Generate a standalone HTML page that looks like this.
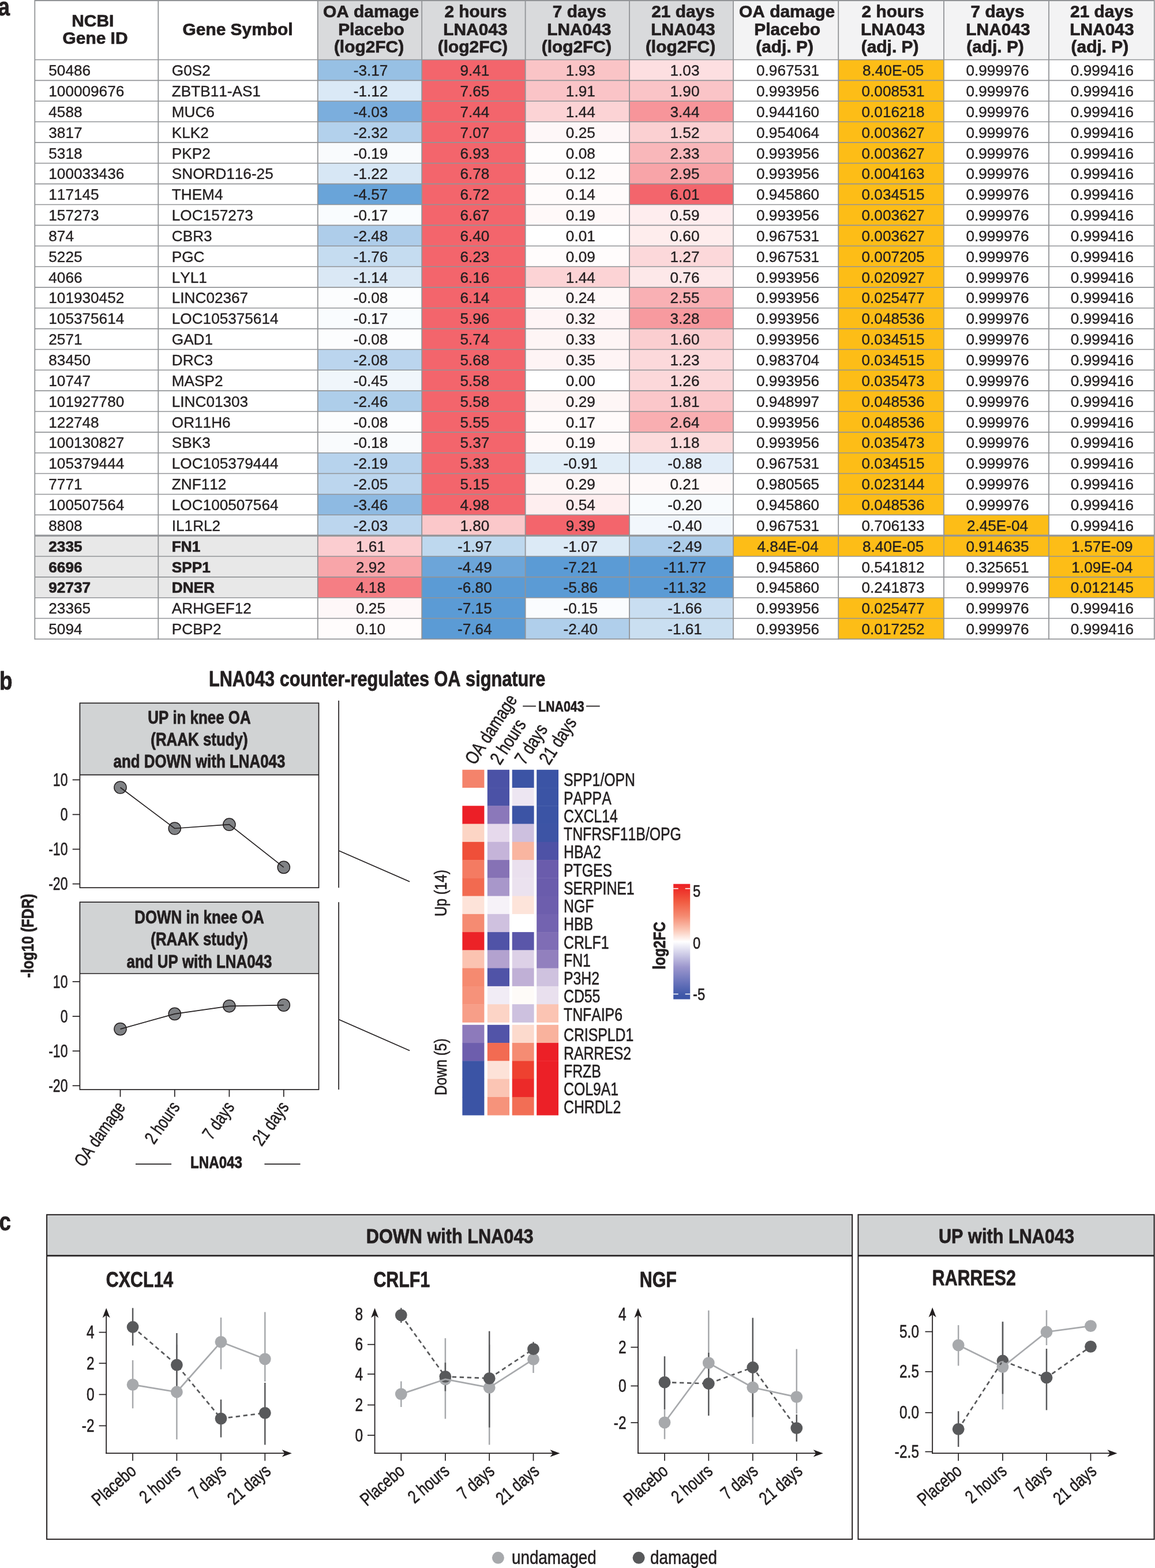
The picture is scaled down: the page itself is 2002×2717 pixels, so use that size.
<!DOCTYPE html>
<html lang="en">
<head>
<meta charset="utf-8">
<title>LNA043 counter-regulates OA signature</title>
<style>
html,body{margin:0;padding:0;background:#ffffff;}
body{width:2002px;height:2717px;overflow:hidden;}
svg{display:block;}
text{font-family:"Liberation Sans",sans-serif;fill:#231f20;font-kerning:none;stroke-linejoin:round;}
</style>
</head>
<body>
<svg width="2002" height="2717" viewBox="0 0 2002 2717" role="img" aria-label="Figure: LNA043 counter-regulates OA signature">
<rect x="0" y="0" width="2002" height="2717" fill="#ffffff"/>
<g id="panel-a">
<rect x="550.80" y="1.20" width="720.20" height="102.30" fill="#d9dadc"/>
<rect x="1271.00" y="1.20" width="729.80" height="102.30" fill="#f3f3f4"/>
<rect x="550.80" y="103.50" width="180.40" height="35.85" fill="#97c0e4"/>
<rect x="731.20" y="103.50" width="179.40" height="35.85" fill="#f3656c"/>
<rect x="910.60" y="103.50" width="180.40" height="35.85" fill="#fac4c6"/>
<rect x="1091.00" y="103.50" width="180.00" height="35.85" fill="#fddfe1"/>
<rect x="1453.20" y="103.50" width="182.80" height="35.85" fill="#fdbd17"/>
<rect x="550.80" y="139.35" width="180.40" height="35.85" fill="#dae9f6"/>
<rect x="731.20" y="139.35" width="179.40" height="35.85" fill="#f3656c"/>
<rect x="910.60" y="139.35" width="180.40" height="35.85" fill="#fac4c7"/>
<rect x="1091.00" y="139.35" width="180.00" height="35.85" fill="#fac4c7"/>
<rect x="1453.20" y="139.35" width="182.80" height="35.85" fill="#fdbd17"/>
<rect x="550.80" y="175.21" width="180.40" height="35.85" fill="#7baedd"/>
<rect x="731.20" y="175.21" width="179.40" height="35.85" fill="#f3656c"/>
<rect x="910.60" y="175.21" width="180.40" height="35.85" fill="#fcd3d5"/>
<rect x="1091.00" y="175.21" width="180.00" height="35.85" fill="#f7959a"/>
<rect x="1453.20" y="175.21" width="182.80" height="35.85" fill="#fdbd17"/>
<rect x="550.80" y="211.06" width="180.40" height="35.85" fill="#b3d1ec"/>
<rect x="731.20" y="211.06" width="179.40" height="35.85" fill="#f3656c"/>
<rect x="910.60" y="211.06" width="180.40" height="35.85" fill="#fef7f8"/>
<rect x="1091.00" y="211.06" width="180.00" height="35.85" fill="#fbd0d2"/>
<rect x="1453.20" y="211.06" width="182.80" height="35.85" fill="#fdbd17"/>
<rect x="550.80" y="246.91" width="180.40" height="35.85" fill="#f9fbfd"/>
<rect x="731.20" y="246.91" width="179.40" height="35.85" fill="#f3656c"/>
<rect x="910.60" y="246.91" width="180.40" height="35.85" fill="#fffdfd"/>
<rect x="1091.00" y="246.91" width="180.00" height="35.85" fill="#f9b7ba"/>
<rect x="1453.20" y="246.91" width="182.80" height="35.85" fill="#fdbd17"/>
<rect x="550.80" y="282.77" width="180.40" height="35.85" fill="#d7e7f5"/>
<rect x="731.20" y="282.77" width="179.40" height="35.85" fill="#f3656c"/>
<rect x="910.60" y="282.77" width="180.40" height="35.85" fill="#fffbfb"/>
<rect x="1091.00" y="282.77" width="180.00" height="35.85" fill="#f8a4a8"/>
<rect x="1453.20" y="282.77" width="182.80" height="35.85" fill="#fdbd17"/>
<rect x="550.80" y="318.62" width="180.40" height="35.85" fill="#69a4d9"/>
<rect x="731.20" y="318.62" width="179.40" height="35.85" fill="#f3656c"/>
<rect x="910.60" y="318.62" width="180.40" height="35.85" fill="#fffbfb"/>
<rect x="1091.00" y="318.62" width="180.00" height="35.85" fill="#f3656c"/>
<rect x="1453.20" y="318.62" width="182.80" height="35.85" fill="#fdbd17"/>
<rect x="550.80" y="354.48" width="180.40" height="35.85" fill="#f9fcfe"/>
<rect x="731.20" y="354.48" width="179.40" height="35.85" fill="#f3656c"/>
<rect x="910.60" y="354.48" width="180.40" height="35.85" fill="#fff9f9"/>
<rect x="1091.00" y="354.48" width="180.00" height="35.85" fill="#feedee"/>
<rect x="1453.20" y="354.48" width="182.80" height="35.85" fill="#fdbd17"/>
<rect x="550.80" y="390.33" width="180.40" height="35.85" fill="#aecdea"/>
<rect x="731.20" y="390.33" width="179.40" height="35.85" fill="#f3656c"/>
<rect x="910.60" y="390.33" width="180.40" height="35.85" fill="#ffffff"/>
<rect x="1091.00" y="390.33" width="180.00" height="35.85" fill="#feeded"/>
<rect x="1453.20" y="390.33" width="182.80" height="35.85" fill="#fdbd17"/>
<rect x="550.80" y="426.18" width="180.40" height="35.85" fill="#c5dcf0"/>
<rect x="731.20" y="426.18" width="179.40" height="35.85" fill="#f3656c"/>
<rect x="910.60" y="426.18" width="180.40" height="35.85" fill="#fffcfc"/>
<rect x="1091.00" y="426.18" width="180.00" height="35.85" fill="#fcd8da"/>
<rect x="1453.20" y="426.18" width="182.80" height="35.85" fill="#fdbd17"/>
<rect x="550.80" y="462.04" width="180.40" height="35.85" fill="#dae8f5"/>
<rect x="731.20" y="462.04" width="179.40" height="35.85" fill="#f3656c"/>
<rect x="910.60" y="462.04" width="180.40" height="35.85" fill="#fcd3d5"/>
<rect x="1091.00" y="462.04" width="180.00" height="35.85" fill="#fde8e9"/>
<rect x="1453.20" y="462.04" width="182.80" height="35.85" fill="#fdbd17"/>
<rect x="550.80" y="497.89" width="180.40" height="35.85" fill="#fcfdfe"/>
<rect x="731.20" y="497.89" width="179.40" height="35.85" fill="#f3656c"/>
<rect x="910.60" y="497.89" width="180.40" height="35.85" fill="#fef8f8"/>
<rect x="1091.00" y="497.89" width="180.00" height="35.85" fill="#f9b0b4"/>
<rect x="1453.20" y="497.89" width="182.80" height="35.85" fill="#fdbd17"/>
<rect x="550.80" y="533.74" width="180.40" height="35.85" fill="#f9fcfe"/>
<rect x="731.20" y="533.74" width="179.40" height="35.85" fill="#f3656c"/>
<rect x="910.60" y="533.74" width="180.40" height="35.85" fill="#fef5f6"/>
<rect x="1091.00" y="533.74" width="180.00" height="35.85" fill="#f79a9f"/>
<rect x="1453.20" y="533.74" width="182.80" height="35.85" fill="#fdbd17"/>
<rect x="550.80" y="569.60" width="180.40" height="35.85" fill="#fcfdfe"/>
<rect x="731.20" y="569.60" width="179.40" height="35.85" fill="#f3656c"/>
<rect x="910.60" y="569.60" width="180.40" height="35.85" fill="#fef5f5"/>
<rect x="1091.00" y="569.60" width="180.00" height="35.85" fill="#fbced0"/>
<rect x="1453.20" y="569.60" width="182.80" height="35.85" fill="#fdbd17"/>
<rect x="550.80" y="605.45" width="180.40" height="35.85" fill="#bbd5ee"/>
<rect x="731.20" y="605.45" width="179.40" height="35.85" fill="#f3656c"/>
<rect x="910.60" y="605.45" width="180.40" height="35.85" fill="#fef4f5"/>
<rect x="1091.00" y="605.45" width="180.00" height="35.85" fill="#fcd9db"/>
<rect x="1453.20" y="605.45" width="182.80" height="35.85" fill="#fdbd17"/>
<rect x="550.80" y="641.30" width="180.40" height="35.85" fill="#f0f6fb"/>
<rect x="731.20" y="641.30" width="179.40" height="35.85" fill="#f3656c"/>
<rect x="910.60" y="641.30" width="180.40" height="35.85" fill="#ffffff"/>
<rect x="1091.00" y="641.30" width="180.00" height="35.85" fill="#fcd8da"/>
<rect x="1453.20" y="641.30" width="182.80" height="35.85" fill="#fdbd17"/>
<rect x="550.80" y="677.16" width="180.40" height="35.85" fill="#aeceea"/>
<rect x="731.20" y="677.16" width="179.40" height="35.85" fill="#f3656c"/>
<rect x="910.60" y="677.16" width="180.40" height="35.85" fill="#fef6f6"/>
<rect x="1091.00" y="677.16" width="180.00" height="35.85" fill="#fbc7ca"/>
<rect x="1453.20" y="677.16" width="182.80" height="35.85" fill="#fdbd17"/>
<rect x="550.80" y="713.01" width="180.40" height="35.85" fill="#fcfdfe"/>
<rect x="731.20" y="713.01" width="179.40" height="35.85" fill="#f3656c"/>
<rect x="910.60" y="713.01" width="180.40" height="35.85" fill="#fffafa"/>
<rect x="1091.00" y="713.01" width="180.00" height="35.85" fill="#f9aeb1"/>
<rect x="1453.20" y="713.01" width="182.80" height="35.85" fill="#fdbd17"/>
<rect x="550.80" y="748.86" width="180.40" height="35.85" fill="#f9fbfd"/>
<rect x="731.20" y="748.86" width="179.40" height="35.85" fill="#f3656c"/>
<rect x="910.60" y="748.86" width="180.40" height="35.85" fill="#fff9f9"/>
<rect x="1091.00" y="748.86" width="180.00" height="35.85" fill="#fcdbdc"/>
<rect x="1453.20" y="748.86" width="182.80" height="35.85" fill="#fdbd17"/>
<rect x="550.80" y="784.72" width="180.40" height="35.85" fill="#b7d3ed"/>
<rect x="731.20" y="784.72" width="179.40" height="35.85" fill="#f3656c"/>
<rect x="910.60" y="784.72" width="180.40" height="35.85" fill="#e1edf7"/>
<rect x="1091.00" y="784.72" width="180.00" height="35.85" fill="#e2edf8"/>
<rect x="1453.20" y="784.72" width="182.80" height="35.85" fill="#fdbd17"/>
<rect x="550.80" y="820.57" width="180.40" height="35.85" fill="#bcd6ee"/>
<rect x="731.20" y="820.57" width="179.40" height="35.85" fill="#f3656c"/>
<rect x="910.60" y="820.57" width="180.40" height="35.85" fill="#fef6f6"/>
<rect x="1091.00" y="820.57" width="180.00" height="35.85" fill="#fef9f9"/>
<rect x="1453.20" y="820.57" width="182.80" height="35.85" fill="#fdbd17"/>
<rect x="550.80" y="856.43" width="180.40" height="35.85" fill="#8ebae2"/>
<rect x="731.20" y="856.43" width="179.40" height="35.85" fill="#f3666d"/>
<rect x="910.60" y="856.43" width="180.40" height="35.85" fill="#feeeef"/>
<rect x="1091.00" y="856.43" width="180.00" height="35.85" fill="#f8fbfd"/>
<rect x="1453.20" y="856.43" width="182.80" height="35.85" fill="#fdbd17"/>
<rect x="550.80" y="892.28" width="180.40" height="35.85" fill="#bcd6ee"/>
<rect x="731.20" y="892.28" width="179.40" height="35.85" fill="#fbc8ca"/>
<rect x="910.60" y="892.28" width="180.40" height="35.85" fill="#f3656c"/>
<rect x="1091.00" y="892.28" width="180.00" height="35.85" fill="#f2f7fc"/>
<rect x="1636.00" y="892.28" width="182.00" height="35.85" fill="#fdbd17"/>
<rect x="60.30" y="928.13" width="490.50" height="35.85" fill="#e8e8e8"/>
<rect x="550.80" y="928.13" width="180.40" height="35.85" fill="#fbcdd0"/>
<rect x="731.20" y="928.13" width="179.40" height="35.85" fill="#bed8ee"/>
<rect x="910.60" y="928.13" width="180.40" height="35.85" fill="#dceaf6"/>
<rect x="1091.00" y="928.13" width="180.00" height="35.85" fill="#adcdea"/>
<rect x="1271.00" y="928.13" width="182.20" height="35.85" fill="#fdbd17"/>
<rect x="1453.20" y="928.13" width="182.80" height="35.85" fill="#fdbd17"/>
<rect x="1636.00" y="928.13" width="182.00" height="35.85" fill="#fdbd17"/>
<rect x="1818.00" y="928.13" width="182.80" height="35.85" fill="#fdbd17"/>
<rect x="60.30" y="963.99" width="490.50" height="35.85" fill="#e8e8e8"/>
<rect x="550.80" y="963.99" width="180.40" height="35.85" fill="#f8a5a9"/>
<rect x="731.20" y="963.99" width="179.40" height="35.85" fill="#6ca5d9"/>
<rect x="910.60" y="963.99" width="180.40" height="35.85" fill="#5b9bd5"/>
<rect x="1091.00" y="963.99" width="180.00" height="35.85" fill="#5b9bd5"/>
<rect x="1818.00" y="963.99" width="182.80" height="35.85" fill="#fdbd17"/>
<rect x="60.30" y="999.84" width="490.50" height="35.85" fill="#e8e8e8"/>
<rect x="550.80" y="999.84" width="180.40" height="35.85" fill="#f57e84"/>
<rect x="731.20" y="999.84" width="179.40" height="35.85" fill="#5b9bd5"/>
<rect x="910.60" y="999.84" width="180.40" height="35.85" fill="#5b9bd5"/>
<rect x="1091.00" y="999.84" width="180.00" height="35.85" fill="#5b9bd5"/>
<rect x="1818.00" y="999.84" width="182.80" height="35.85" fill="#fdbd17"/>
<rect x="550.80" y="1035.69" width="180.40" height="35.85" fill="#fef7f8"/>
<rect x="731.20" y="1035.69" width="179.40" height="35.85" fill="#5b9bd5"/>
<rect x="910.60" y="1035.69" width="180.40" height="35.85" fill="#fafcfe"/>
<rect x="1091.00" y="1035.69" width="180.00" height="35.85" fill="#c9def1"/>
<rect x="1453.20" y="1035.69" width="182.80" height="35.85" fill="#fdbd17"/>
<rect x="550.80" y="1071.55" width="180.40" height="35.85" fill="#fffcfc"/>
<rect x="731.20" y="1071.55" width="179.40" height="35.85" fill="#5b9bd5"/>
<rect x="910.60" y="1071.55" width="180.40" height="35.85" fill="#b0cfeb"/>
<rect x="1091.00" y="1071.55" width="180.00" height="35.85" fill="#cadff1"/>
<rect x="1453.20" y="1071.55" width="182.80" height="35.85" fill="#fdbd17"/>
<line x1="60.30" y1="103.50" x2="2000.80" y2="103.50" stroke="#929497" stroke-width="1.6"/>
<line x1="60.30" y1="139.35" x2="2000.80" y2="139.35" stroke="#929497" stroke-width="1.6"/>
<line x1="60.30" y1="175.21" x2="2000.80" y2="175.21" stroke="#929497" stroke-width="1.6"/>
<line x1="60.30" y1="211.06" x2="2000.80" y2="211.06" stroke="#929497" stroke-width="1.6"/>
<line x1="60.30" y1="246.91" x2="2000.80" y2="246.91" stroke="#929497" stroke-width="1.6"/>
<line x1="60.30" y1="282.77" x2="2000.80" y2="282.77" stroke="#929497" stroke-width="1.6"/>
<line x1="60.30" y1="318.62" x2="2000.80" y2="318.62" stroke="#929497" stroke-width="1.6"/>
<line x1="60.30" y1="354.48" x2="2000.80" y2="354.48" stroke="#929497" stroke-width="1.6"/>
<line x1="60.30" y1="390.33" x2="2000.80" y2="390.33" stroke="#929497" stroke-width="1.6"/>
<line x1="60.30" y1="426.18" x2="2000.80" y2="426.18" stroke="#929497" stroke-width="1.6"/>
<line x1="60.30" y1="462.04" x2="2000.80" y2="462.04" stroke="#929497" stroke-width="1.6"/>
<line x1="60.30" y1="497.89" x2="2000.80" y2="497.89" stroke="#929497" stroke-width="1.6"/>
<line x1="60.30" y1="533.74" x2="2000.80" y2="533.74" stroke="#929497" stroke-width="1.6"/>
<line x1="60.30" y1="569.60" x2="2000.80" y2="569.60" stroke="#929497" stroke-width="1.6"/>
<line x1="60.30" y1="605.45" x2="2000.80" y2="605.45" stroke="#929497" stroke-width="1.6"/>
<line x1="60.30" y1="641.30" x2="2000.80" y2="641.30" stroke="#929497" stroke-width="1.6"/>
<line x1="60.30" y1="677.16" x2="2000.80" y2="677.16" stroke="#929497" stroke-width="1.6"/>
<line x1="60.30" y1="713.01" x2="2000.80" y2="713.01" stroke="#929497" stroke-width="1.6"/>
<line x1="60.30" y1="748.86" x2="2000.80" y2="748.86" stroke="#929497" stroke-width="1.6"/>
<line x1="60.30" y1="784.72" x2="2000.80" y2="784.72" stroke="#929497" stroke-width="1.6"/>
<line x1="60.30" y1="820.57" x2="2000.80" y2="820.57" stroke="#929497" stroke-width="1.6"/>
<line x1="60.30" y1="856.43" x2="2000.80" y2="856.43" stroke="#929497" stroke-width="1.6"/>
<line x1="60.30" y1="892.28" x2="2000.80" y2="892.28" stroke="#929497" stroke-width="1.6"/>
<line x1="60.30" y1="928.13" x2="2000.80" y2="928.13" stroke="#929497" stroke-width="3.2"/>
<line x1="60.30" y1="963.99" x2="2000.80" y2="963.99" stroke="#929497" stroke-width="1.6"/>
<line x1="60.30" y1="999.84" x2="2000.80" y2="999.84" stroke="#929497" stroke-width="1.6"/>
<line x1="60.30" y1="1035.69" x2="2000.80" y2="1035.69" stroke="#929497" stroke-width="1.6"/>
<line x1="60.30" y1="1071.55" x2="2000.80" y2="1071.55" stroke="#929497" stroke-width="1.6"/>
<line x1="60.30" y1="1107.40" x2="2000.80" y2="1107.40" stroke="#929497" stroke-width="1.6"/>
<line x1="60.30" y1="0.95" x2="2000.80" y2="0.95" stroke="#929497" stroke-width="1.9"/>
<line x1="60.30" y1="0.00" x2="60.30" y2="1108.20" stroke="#929497" stroke-width="1.8"/>
<line x1="274.30" y1="0.00" x2="274.30" y2="1108.20" stroke="#929497" stroke-width="1.8"/>
<line x1="550.80" y1="0.00" x2="550.80" y2="1108.20" stroke="#929497" stroke-width="1.8"/>
<line x1="731.20" y1="0.00" x2="731.20" y2="1108.20" stroke="#929497" stroke-width="1.8"/>
<line x1="910.60" y1="0.00" x2="910.60" y2="1108.20" stroke="#929497" stroke-width="1.8"/>
<line x1="1091.00" y1="0.00" x2="1091.00" y2="1108.20" stroke="#929497" stroke-width="1.8"/>
<line x1="1271.00" y1="0.00" x2="1271.00" y2="1108.20" stroke="#929497" stroke-width="1.8"/>
<line x1="1453.20" y1="0.00" x2="1453.20" y2="1108.20" stroke="#929497" stroke-width="1.8"/>
<line x1="1636.00" y1="0.00" x2="1636.00" y2="1108.20" stroke="#929497" stroke-width="1.8"/>
<line x1="1818.00" y1="0.00" x2="1818.00" y2="1108.20" stroke="#929497" stroke-width="1.8"/>
<line x1="2000.80" y1="0.00" x2="2000.80" y2="1108.20" stroke="#929497" stroke-width="1.8"/>
<text transform="translate(160.80 45.60) scale(1.0450 1)" font-size="28.6" font-weight="bold" text-anchor="middle" stroke="#231f20" stroke-width="0.7">NCBI</text>
<text transform="translate(165.00 76.00) scale(1.0450 1)" font-size="28.6" font-weight="bold" text-anchor="middle" stroke="#231f20" stroke-width="0.7">Gene ID</text>
<text transform="translate(412.05 61.20) scale(1.0450 1)" font-size="28.6" font-weight="bold" text-anchor="middle" stroke="#231f20" stroke-width="0.7">Gene Symbol</text>
<text transform="translate(643.00 30.30) scale(1.0450 1)" font-size="28.6" font-weight="bold" text-anchor="middle" stroke="#231f20" stroke-width="0.7">OA damage</text>
<text transform="translate(643.50 60.80) scale(1.0450 1)" font-size="28.6" font-weight="bold" text-anchor="middle" stroke="#231f20" stroke-width="0.7">Placebo</text>
<text transform="translate(639.50 91.20) scale(1.0450 1)" font-size="28.6" font-weight="bold" text-anchor="middle" stroke="#231f20" stroke-width="0.7">(log2FC)</text>
<text transform="translate(824.40 30.30) scale(1.0450 1)" font-size="28.6" font-weight="bold" text-anchor="middle" stroke="#231f20" stroke-width="0.7">2 hours</text>
<text transform="translate(823.90 60.80) scale(1.0450 1)" font-size="28.6" font-weight="bold" text-anchor="middle" stroke="#231f20" stroke-width="0.7">LNA043</text>
<text transform="translate(819.40 91.20) scale(1.0450 1)" font-size="28.6" font-weight="bold" text-anchor="middle" stroke="#231f20" stroke-width="0.7">(log2FC)</text>
<text transform="translate(1004.30 30.30) scale(1.0450 1)" font-size="28.6" font-weight="bold" text-anchor="middle" stroke="#231f20" stroke-width="0.7">7 days</text>
<text transform="translate(1003.80 60.80) scale(1.0450 1)" font-size="28.6" font-weight="bold" text-anchor="middle" stroke="#231f20" stroke-width="0.7">LNA043</text>
<text transform="translate(999.30 91.20) scale(1.0450 1)" font-size="28.6" font-weight="bold" text-anchor="middle" stroke="#231f20" stroke-width="0.7">(log2FC)</text>
<text transform="translate(1184.00 30.30) scale(1.0450 1)" font-size="28.6" font-weight="bold" text-anchor="middle" stroke="#231f20" stroke-width="0.7">21 days</text>
<text transform="translate(1184.00 60.80) scale(1.0450 1)" font-size="28.6" font-weight="bold" text-anchor="middle" stroke="#231f20" stroke-width="0.7">LNA043</text>
<text transform="translate(1179.50 91.20) scale(1.0450 1)" font-size="28.6" font-weight="bold" text-anchor="middle" stroke="#231f20" stroke-width="0.7">(log2FC)</text>
<text transform="translate(1364.10 30.30) scale(1.0450 1)" font-size="28.6" font-weight="bold" text-anchor="middle" stroke="#231f20" stroke-width="0.7">OA damage</text>
<text transform="translate(1364.60 60.80) scale(1.0450 1)" font-size="28.6" font-weight="bold" text-anchor="middle" stroke="#231f20" stroke-width="0.7">Placebo</text>
<text transform="translate(1360.10 91.20) scale(1.0450 1)" font-size="28.6" font-weight="bold" text-anchor="middle" stroke="#231f20" stroke-width="0.7">(adj. P)</text>
<text transform="translate(1547.60 30.30) scale(1.0450 1)" font-size="28.6" font-weight="bold" text-anchor="middle" stroke="#231f20" stroke-width="0.7">2 hours</text>
<text transform="translate(1547.60 60.80) scale(1.0450 1)" font-size="28.6" font-weight="bold" text-anchor="middle" stroke="#231f20" stroke-width="0.7">LNA043</text>
<text transform="translate(1542.60 91.20) scale(1.0450 1)" font-size="28.6" font-weight="bold" text-anchor="middle" stroke="#231f20" stroke-width="0.7">(adj. P)</text>
<text transform="translate(1729.00 30.30) scale(1.0450 1)" font-size="28.6" font-weight="bold" text-anchor="middle" stroke="#231f20" stroke-width="0.7">7 days</text>
<text transform="translate(1730.00 60.80) scale(1.0450 1)" font-size="28.6" font-weight="bold" text-anchor="middle" stroke="#231f20" stroke-width="0.7">LNA043</text>
<text transform="translate(1725.00 91.20) scale(1.0450 1)" font-size="28.6" font-weight="bold" text-anchor="middle" stroke="#231f20" stroke-width="0.7">(adj. P)</text>
<text transform="translate(1909.90 30.30) scale(1.0450 1)" font-size="28.6" font-weight="bold" text-anchor="middle" stroke="#231f20" stroke-width="0.7">21 days</text>
<text transform="translate(1909.90 60.80) scale(1.0450 1)" font-size="28.6" font-weight="bold" text-anchor="middle" stroke="#231f20" stroke-width="0.7">LNA043</text>
<text transform="translate(1906.40 91.20) scale(1.0450 1)" font-size="28.6" font-weight="bold" text-anchor="middle" stroke="#231f20" stroke-width="0.7">(adj. P)</text>
<text transform="translate(84.30 131.10) scale(1.0470 1)" font-size="25" stroke="#231f20" stroke-width="0.35">50486</text>
<text transform="translate(297.80 131.10) scale(1.0470 1)" font-size="25" stroke="#231f20" stroke-width="0.35">G0S2</text>
<text transform="translate(642.50 131.10) scale(1.0470 1)" font-size="25" text-anchor="middle" stroke="#231f20" stroke-width="0.35">-3.17</text>
<text transform="translate(822.90 131.10) scale(1.0470 1)" font-size="25" text-anchor="middle" stroke="#231f20" stroke-width="0.35">9.41</text>
<text transform="translate(1006.30 131.10) scale(1.0470 1)" font-size="25" text-anchor="middle" stroke="#231f20" stroke-width="0.35">1.93</text>
<text transform="translate(1187.00 131.10) scale(1.0470 1)" font-size="25" text-anchor="middle" stroke="#231f20" stroke-width="0.35">1.03</text>
<text transform="translate(1365.60 131.10) scale(1.0470 1)" font-size="25" text-anchor="middle" stroke="#231f20" stroke-width="0.35">0.967531</text>
<text transform="translate(1548.10 131.10) scale(1.0470 1)" font-size="25" text-anchor="middle" stroke="#231f20" stroke-width="0.35">8.40E-05</text>
<text transform="translate(1729.00 131.10) scale(1.0470 1)" font-size="25" text-anchor="middle" stroke="#231f20" stroke-width="0.35">0.999976</text>
<text transform="translate(1910.40 131.10) scale(1.0470 1)" font-size="25" text-anchor="middle" stroke="#231f20" stroke-width="0.35">0.999416</text>
<text transform="translate(84.30 166.95) scale(1.0470 1)" font-size="25" stroke="#231f20" stroke-width="0.35">100009676</text>
<text transform="translate(297.80 166.95) scale(1.0470 1)" font-size="25" stroke="#231f20" stroke-width="0.35">ZBTB11-AS1</text>
<text transform="translate(642.50 166.95) scale(1.0470 1)" font-size="25" text-anchor="middle" stroke="#231f20" stroke-width="0.35">-1.12</text>
<text transform="translate(822.90 166.95) scale(1.0470 1)" font-size="25" text-anchor="middle" stroke="#231f20" stroke-width="0.35">7.65</text>
<text transform="translate(1006.30 166.95) scale(1.0470 1)" font-size="25" text-anchor="middle" stroke="#231f20" stroke-width="0.35">1.91</text>
<text transform="translate(1187.00 166.95) scale(1.0470 1)" font-size="25" text-anchor="middle" stroke="#231f20" stroke-width="0.35">1.90</text>
<text transform="translate(1365.60 166.95) scale(1.0470 1)" font-size="25" text-anchor="middle" stroke="#231f20" stroke-width="0.35">0.993956</text>
<text transform="translate(1548.10 166.95) scale(1.0470 1)" font-size="25" text-anchor="middle" stroke="#231f20" stroke-width="0.35">0.008531</text>
<text transform="translate(1729.00 166.95) scale(1.0470 1)" font-size="25" text-anchor="middle" stroke="#231f20" stroke-width="0.35">0.999976</text>
<text transform="translate(1910.40 166.95) scale(1.0470 1)" font-size="25" text-anchor="middle" stroke="#231f20" stroke-width="0.35">0.999416</text>
<text transform="translate(84.30 202.81) scale(1.0470 1)" font-size="25" stroke="#231f20" stroke-width="0.35">4588</text>
<text transform="translate(297.80 202.81) scale(1.0470 1)" font-size="25" stroke="#231f20" stroke-width="0.35">MUC6</text>
<text transform="translate(642.50 202.81) scale(1.0470 1)" font-size="25" text-anchor="middle" stroke="#231f20" stroke-width="0.35">-4.03</text>
<text transform="translate(822.90 202.81) scale(1.0470 1)" font-size="25" text-anchor="middle" stroke="#231f20" stroke-width="0.35">7.44</text>
<text transform="translate(1006.30 202.81) scale(1.0470 1)" font-size="25" text-anchor="middle" stroke="#231f20" stroke-width="0.35">1.44</text>
<text transform="translate(1187.00 202.81) scale(1.0470 1)" font-size="25" text-anchor="middle" stroke="#231f20" stroke-width="0.35">3.44</text>
<text transform="translate(1365.60 202.81) scale(1.0470 1)" font-size="25" text-anchor="middle" stroke="#231f20" stroke-width="0.35">0.944160</text>
<text transform="translate(1548.10 202.81) scale(1.0470 1)" font-size="25" text-anchor="middle" stroke="#231f20" stroke-width="0.35">0.016218</text>
<text transform="translate(1729.00 202.81) scale(1.0470 1)" font-size="25" text-anchor="middle" stroke="#231f20" stroke-width="0.35">0.999976</text>
<text transform="translate(1910.40 202.81) scale(1.0470 1)" font-size="25" text-anchor="middle" stroke="#231f20" stroke-width="0.35">0.999416</text>
<text transform="translate(84.30 238.66) scale(1.0470 1)" font-size="25" stroke="#231f20" stroke-width="0.35">3817</text>
<text transform="translate(297.80 238.66) scale(1.0470 1)" font-size="25" stroke="#231f20" stroke-width="0.35">KLK2</text>
<text transform="translate(642.50 238.66) scale(1.0470 1)" font-size="25" text-anchor="middle" stroke="#231f20" stroke-width="0.35">-2.32</text>
<text transform="translate(822.90 238.66) scale(1.0470 1)" font-size="25" text-anchor="middle" stroke="#231f20" stroke-width="0.35">7.07</text>
<text transform="translate(1006.30 238.66) scale(1.0470 1)" font-size="25" text-anchor="middle" stroke="#231f20" stroke-width="0.35">0.25</text>
<text transform="translate(1187.00 238.66) scale(1.0470 1)" font-size="25" text-anchor="middle" stroke="#231f20" stroke-width="0.35">1.52</text>
<text transform="translate(1365.60 238.66) scale(1.0470 1)" font-size="25" text-anchor="middle" stroke="#231f20" stroke-width="0.35">0.954064</text>
<text transform="translate(1548.10 238.66) scale(1.0470 1)" font-size="25" text-anchor="middle" stroke="#231f20" stroke-width="0.35">0.003627</text>
<text transform="translate(1729.00 238.66) scale(1.0470 1)" font-size="25" text-anchor="middle" stroke="#231f20" stroke-width="0.35">0.999976</text>
<text transform="translate(1910.40 238.66) scale(1.0470 1)" font-size="25" text-anchor="middle" stroke="#231f20" stroke-width="0.35">0.999416</text>
<text transform="translate(84.30 274.51) scale(1.0470 1)" font-size="25" stroke="#231f20" stroke-width="0.35">5318</text>
<text transform="translate(297.80 274.51) scale(1.0470 1)" font-size="25" stroke="#231f20" stroke-width="0.35">PKP2</text>
<text transform="translate(642.50 274.51) scale(1.0470 1)" font-size="25" text-anchor="middle" stroke="#231f20" stroke-width="0.35">-0.19</text>
<text transform="translate(822.90 274.51) scale(1.0470 1)" font-size="25" text-anchor="middle" stroke="#231f20" stroke-width="0.35">6.93</text>
<text transform="translate(1006.30 274.51) scale(1.0470 1)" font-size="25" text-anchor="middle" stroke="#231f20" stroke-width="0.35">0.08</text>
<text transform="translate(1187.00 274.51) scale(1.0470 1)" font-size="25" text-anchor="middle" stroke="#231f20" stroke-width="0.35">2.33</text>
<text transform="translate(1365.60 274.51) scale(1.0470 1)" font-size="25" text-anchor="middle" stroke="#231f20" stroke-width="0.35">0.993956</text>
<text transform="translate(1548.10 274.51) scale(1.0470 1)" font-size="25" text-anchor="middle" stroke="#231f20" stroke-width="0.35">0.003627</text>
<text transform="translate(1729.00 274.51) scale(1.0470 1)" font-size="25" text-anchor="middle" stroke="#231f20" stroke-width="0.35">0.999976</text>
<text transform="translate(1910.40 274.51) scale(1.0470 1)" font-size="25" text-anchor="middle" stroke="#231f20" stroke-width="0.35">0.999416</text>
<text transform="translate(84.30 310.37) scale(1.0470 1)" font-size="25" stroke="#231f20" stroke-width="0.35">100033436</text>
<text transform="translate(297.80 310.37) scale(1.0470 1)" font-size="25" stroke="#231f20" stroke-width="0.35">SNORD116-25</text>
<text transform="translate(642.50 310.37) scale(1.0470 1)" font-size="25" text-anchor="middle" stroke="#231f20" stroke-width="0.35">-1.22</text>
<text transform="translate(822.90 310.37) scale(1.0470 1)" font-size="25" text-anchor="middle" stroke="#231f20" stroke-width="0.35">6.78</text>
<text transform="translate(1006.30 310.37) scale(1.0470 1)" font-size="25" text-anchor="middle" stroke="#231f20" stroke-width="0.35">0.12</text>
<text transform="translate(1187.00 310.37) scale(1.0470 1)" font-size="25" text-anchor="middle" stroke="#231f20" stroke-width="0.35">2.95</text>
<text transform="translate(1365.60 310.37) scale(1.0470 1)" font-size="25" text-anchor="middle" stroke="#231f20" stroke-width="0.35">0.993956</text>
<text transform="translate(1548.10 310.37) scale(1.0470 1)" font-size="25" text-anchor="middle" stroke="#231f20" stroke-width="0.35">0.004163</text>
<text transform="translate(1729.00 310.37) scale(1.0470 1)" font-size="25" text-anchor="middle" stroke="#231f20" stroke-width="0.35">0.999976</text>
<text transform="translate(1910.40 310.37) scale(1.0470 1)" font-size="25" text-anchor="middle" stroke="#231f20" stroke-width="0.35">0.999416</text>
<text transform="translate(84.30 346.22) scale(1.0470 1)" font-size="25" stroke="#231f20" stroke-width="0.35">117145</text>
<text transform="translate(297.80 346.22) scale(1.0470 1)" font-size="25" stroke="#231f20" stroke-width="0.35">THEM4</text>
<text transform="translate(642.50 346.22) scale(1.0470 1)" font-size="25" text-anchor="middle" stroke="#231f20" stroke-width="0.35">-4.57</text>
<text transform="translate(822.90 346.22) scale(1.0470 1)" font-size="25" text-anchor="middle" stroke="#231f20" stroke-width="0.35">6.72</text>
<text transform="translate(1006.30 346.22) scale(1.0470 1)" font-size="25" text-anchor="middle" stroke="#231f20" stroke-width="0.35">0.14</text>
<text transform="translate(1187.00 346.22) scale(1.0470 1)" font-size="25" text-anchor="middle" stroke="#231f20" stroke-width="0.35">6.01</text>
<text transform="translate(1365.60 346.22) scale(1.0470 1)" font-size="25" text-anchor="middle" stroke="#231f20" stroke-width="0.35">0.945860</text>
<text transform="translate(1548.10 346.22) scale(1.0470 1)" font-size="25" text-anchor="middle" stroke="#231f20" stroke-width="0.35">0.034515</text>
<text transform="translate(1729.00 346.22) scale(1.0470 1)" font-size="25" text-anchor="middle" stroke="#231f20" stroke-width="0.35">0.999976</text>
<text transform="translate(1910.40 346.22) scale(1.0470 1)" font-size="25" text-anchor="middle" stroke="#231f20" stroke-width="0.35">0.999416</text>
<text transform="translate(84.30 382.08) scale(1.0470 1)" font-size="25" stroke="#231f20" stroke-width="0.35">157273</text>
<text transform="translate(297.80 382.08) scale(1.0470 1)" font-size="25" stroke="#231f20" stroke-width="0.35">LOC157273</text>
<text transform="translate(642.50 382.08) scale(1.0470 1)" font-size="25" text-anchor="middle" stroke="#231f20" stroke-width="0.35">-0.17</text>
<text transform="translate(822.90 382.08) scale(1.0470 1)" font-size="25" text-anchor="middle" stroke="#231f20" stroke-width="0.35">6.67</text>
<text transform="translate(1006.30 382.08) scale(1.0470 1)" font-size="25" text-anchor="middle" stroke="#231f20" stroke-width="0.35">0.19</text>
<text transform="translate(1187.00 382.08) scale(1.0470 1)" font-size="25" text-anchor="middle" stroke="#231f20" stroke-width="0.35">0.59</text>
<text transform="translate(1365.60 382.08) scale(1.0470 1)" font-size="25" text-anchor="middle" stroke="#231f20" stroke-width="0.35">0.993956</text>
<text transform="translate(1548.10 382.08) scale(1.0470 1)" font-size="25" text-anchor="middle" stroke="#231f20" stroke-width="0.35">0.003627</text>
<text transform="translate(1729.00 382.08) scale(1.0470 1)" font-size="25" text-anchor="middle" stroke="#231f20" stroke-width="0.35">0.999976</text>
<text transform="translate(1910.40 382.08) scale(1.0470 1)" font-size="25" text-anchor="middle" stroke="#231f20" stroke-width="0.35">0.999416</text>
<text transform="translate(84.30 417.93) scale(1.0470 1)" font-size="25" stroke="#231f20" stroke-width="0.35">874</text>
<text transform="translate(297.80 417.93) scale(1.0470 1)" font-size="25" stroke="#231f20" stroke-width="0.35">CBR3</text>
<text transform="translate(642.50 417.93) scale(1.0470 1)" font-size="25" text-anchor="middle" stroke="#231f20" stroke-width="0.35">-2.48</text>
<text transform="translate(822.90 417.93) scale(1.0470 1)" font-size="25" text-anchor="middle" stroke="#231f20" stroke-width="0.35">6.40</text>
<text transform="translate(1006.30 417.93) scale(1.0470 1)" font-size="25" text-anchor="middle" stroke="#231f20" stroke-width="0.35">0.01</text>
<text transform="translate(1187.00 417.93) scale(1.0470 1)" font-size="25" text-anchor="middle" stroke="#231f20" stroke-width="0.35">0.60</text>
<text transform="translate(1365.60 417.93) scale(1.0470 1)" font-size="25" text-anchor="middle" stroke="#231f20" stroke-width="0.35">0.967531</text>
<text transform="translate(1548.10 417.93) scale(1.0470 1)" font-size="25" text-anchor="middle" stroke="#231f20" stroke-width="0.35">0.003627</text>
<text transform="translate(1729.00 417.93) scale(1.0470 1)" font-size="25" text-anchor="middle" stroke="#231f20" stroke-width="0.35">0.999976</text>
<text transform="translate(1910.40 417.93) scale(1.0470 1)" font-size="25" text-anchor="middle" stroke="#231f20" stroke-width="0.35">0.999416</text>
<text transform="translate(84.30 453.78) scale(1.0470 1)" font-size="25" stroke="#231f20" stroke-width="0.35">5225</text>
<text transform="translate(297.80 453.78) scale(1.0470 1)" font-size="25" stroke="#231f20" stroke-width="0.35">PGC</text>
<text transform="translate(642.50 453.78) scale(1.0470 1)" font-size="25" text-anchor="middle" stroke="#231f20" stroke-width="0.35">-1.76</text>
<text transform="translate(822.90 453.78) scale(1.0470 1)" font-size="25" text-anchor="middle" stroke="#231f20" stroke-width="0.35">6.23</text>
<text transform="translate(1006.30 453.78) scale(1.0470 1)" font-size="25" text-anchor="middle" stroke="#231f20" stroke-width="0.35">0.09</text>
<text transform="translate(1187.00 453.78) scale(1.0470 1)" font-size="25" text-anchor="middle" stroke="#231f20" stroke-width="0.35">1.27</text>
<text transform="translate(1365.60 453.78) scale(1.0470 1)" font-size="25" text-anchor="middle" stroke="#231f20" stroke-width="0.35">0.967531</text>
<text transform="translate(1548.10 453.78) scale(1.0470 1)" font-size="25" text-anchor="middle" stroke="#231f20" stroke-width="0.35">0.007205</text>
<text transform="translate(1729.00 453.78) scale(1.0470 1)" font-size="25" text-anchor="middle" stroke="#231f20" stroke-width="0.35">0.999976</text>
<text transform="translate(1910.40 453.78) scale(1.0470 1)" font-size="25" text-anchor="middle" stroke="#231f20" stroke-width="0.35">0.999416</text>
<text transform="translate(84.30 489.64) scale(1.0470 1)" font-size="25" stroke="#231f20" stroke-width="0.35">4066</text>
<text transform="translate(297.80 489.64) scale(1.0470 1)" font-size="25" stroke="#231f20" stroke-width="0.35">LYL1</text>
<text transform="translate(642.50 489.64) scale(1.0470 1)" font-size="25" text-anchor="middle" stroke="#231f20" stroke-width="0.35">-1.14</text>
<text transform="translate(822.90 489.64) scale(1.0470 1)" font-size="25" text-anchor="middle" stroke="#231f20" stroke-width="0.35">6.16</text>
<text transform="translate(1006.30 489.64) scale(1.0470 1)" font-size="25" text-anchor="middle" stroke="#231f20" stroke-width="0.35">1.44</text>
<text transform="translate(1187.00 489.64) scale(1.0470 1)" font-size="25" text-anchor="middle" stroke="#231f20" stroke-width="0.35">0.76</text>
<text transform="translate(1365.60 489.64) scale(1.0470 1)" font-size="25" text-anchor="middle" stroke="#231f20" stroke-width="0.35">0.993956</text>
<text transform="translate(1548.10 489.64) scale(1.0470 1)" font-size="25" text-anchor="middle" stroke="#231f20" stroke-width="0.35">0.020927</text>
<text transform="translate(1729.00 489.64) scale(1.0470 1)" font-size="25" text-anchor="middle" stroke="#231f20" stroke-width="0.35">0.999976</text>
<text transform="translate(1910.40 489.64) scale(1.0470 1)" font-size="25" text-anchor="middle" stroke="#231f20" stroke-width="0.35">0.999416</text>
<text transform="translate(84.30 525.49) scale(1.0470 1)" font-size="25" stroke="#231f20" stroke-width="0.35">101930452</text>
<text transform="translate(297.80 525.49) scale(1.0470 1)" font-size="25" stroke="#231f20" stroke-width="0.35">LINC02367</text>
<text transform="translate(642.50 525.49) scale(1.0470 1)" font-size="25" text-anchor="middle" stroke="#231f20" stroke-width="0.35">-0.08</text>
<text transform="translate(822.90 525.49) scale(1.0470 1)" font-size="25" text-anchor="middle" stroke="#231f20" stroke-width="0.35">6.14</text>
<text transform="translate(1006.30 525.49) scale(1.0470 1)" font-size="25" text-anchor="middle" stroke="#231f20" stroke-width="0.35">0.24</text>
<text transform="translate(1187.00 525.49) scale(1.0470 1)" font-size="25" text-anchor="middle" stroke="#231f20" stroke-width="0.35">2.55</text>
<text transform="translate(1365.60 525.49) scale(1.0470 1)" font-size="25" text-anchor="middle" stroke="#231f20" stroke-width="0.35">0.993956</text>
<text transform="translate(1548.10 525.49) scale(1.0470 1)" font-size="25" text-anchor="middle" stroke="#231f20" stroke-width="0.35">0.025477</text>
<text transform="translate(1729.00 525.49) scale(1.0470 1)" font-size="25" text-anchor="middle" stroke="#231f20" stroke-width="0.35">0.999976</text>
<text transform="translate(1910.40 525.49) scale(1.0470 1)" font-size="25" text-anchor="middle" stroke="#231f20" stroke-width="0.35">0.999416</text>
<text transform="translate(84.30 561.34) scale(1.0470 1)" font-size="25" stroke="#231f20" stroke-width="0.35">105375614</text>
<text transform="translate(297.80 561.34) scale(1.0470 1)" font-size="25" stroke="#231f20" stroke-width="0.35">LOC105375614</text>
<text transform="translate(642.50 561.34) scale(1.0470 1)" font-size="25" text-anchor="middle" stroke="#231f20" stroke-width="0.35">-0.17</text>
<text transform="translate(822.90 561.34) scale(1.0470 1)" font-size="25" text-anchor="middle" stroke="#231f20" stroke-width="0.35">5.96</text>
<text transform="translate(1006.30 561.34) scale(1.0470 1)" font-size="25" text-anchor="middle" stroke="#231f20" stroke-width="0.35">0.32</text>
<text transform="translate(1187.00 561.34) scale(1.0470 1)" font-size="25" text-anchor="middle" stroke="#231f20" stroke-width="0.35">3.28</text>
<text transform="translate(1365.60 561.34) scale(1.0470 1)" font-size="25" text-anchor="middle" stroke="#231f20" stroke-width="0.35">0.993956</text>
<text transform="translate(1548.10 561.34) scale(1.0470 1)" font-size="25" text-anchor="middle" stroke="#231f20" stroke-width="0.35">0.048536</text>
<text transform="translate(1729.00 561.34) scale(1.0470 1)" font-size="25" text-anchor="middle" stroke="#231f20" stroke-width="0.35">0.999976</text>
<text transform="translate(1910.40 561.34) scale(1.0470 1)" font-size="25" text-anchor="middle" stroke="#231f20" stroke-width="0.35">0.999416</text>
<text transform="translate(84.30 597.20) scale(1.0470 1)" font-size="25" stroke="#231f20" stroke-width="0.35">2571</text>
<text transform="translate(297.80 597.20) scale(1.0470 1)" font-size="25" stroke="#231f20" stroke-width="0.35">GAD1</text>
<text transform="translate(642.50 597.20) scale(1.0470 1)" font-size="25" text-anchor="middle" stroke="#231f20" stroke-width="0.35">-0.08</text>
<text transform="translate(822.90 597.20) scale(1.0470 1)" font-size="25" text-anchor="middle" stroke="#231f20" stroke-width="0.35">5.74</text>
<text transform="translate(1006.30 597.20) scale(1.0470 1)" font-size="25" text-anchor="middle" stroke="#231f20" stroke-width="0.35">0.33</text>
<text transform="translate(1187.00 597.20) scale(1.0470 1)" font-size="25" text-anchor="middle" stroke="#231f20" stroke-width="0.35">1.60</text>
<text transform="translate(1365.60 597.20) scale(1.0470 1)" font-size="25" text-anchor="middle" stroke="#231f20" stroke-width="0.35">0.993956</text>
<text transform="translate(1548.10 597.20) scale(1.0470 1)" font-size="25" text-anchor="middle" stroke="#231f20" stroke-width="0.35">0.034515</text>
<text transform="translate(1729.00 597.20) scale(1.0470 1)" font-size="25" text-anchor="middle" stroke="#231f20" stroke-width="0.35">0.999976</text>
<text transform="translate(1910.40 597.20) scale(1.0470 1)" font-size="25" text-anchor="middle" stroke="#231f20" stroke-width="0.35">0.999416</text>
<text transform="translate(84.30 633.05) scale(1.0470 1)" font-size="25" stroke="#231f20" stroke-width="0.35">83450</text>
<text transform="translate(297.80 633.05) scale(1.0470 1)" font-size="25" stroke="#231f20" stroke-width="0.35">DRC3</text>
<text transform="translate(642.50 633.05) scale(1.0470 1)" font-size="25" text-anchor="middle" stroke="#231f20" stroke-width="0.35">-2.08</text>
<text transform="translate(822.90 633.05) scale(1.0470 1)" font-size="25" text-anchor="middle" stroke="#231f20" stroke-width="0.35">5.68</text>
<text transform="translate(1006.30 633.05) scale(1.0470 1)" font-size="25" text-anchor="middle" stroke="#231f20" stroke-width="0.35">0.35</text>
<text transform="translate(1187.00 633.05) scale(1.0470 1)" font-size="25" text-anchor="middle" stroke="#231f20" stroke-width="0.35">1.23</text>
<text transform="translate(1365.60 633.05) scale(1.0470 1)" font-size="25" text-anchor="middle" stroke="#231f20" stroke-width="0.35">0.983704</text>
<text transform="translate(1548.10 633.05) scale(1.0470 1)" font-size="25" text-anchor="middle" stroke="#231f20" stroke-width="0.35">0.034515</text>
<text transform="translate(1729.00 633.05) scale(1.0470 1)" font-size="25" text-anchor="middle" stroke="#231f20" stroke-width="0.35">0.999976</text>
<text transform="translate(1910.40 633.05) scale(1.0470 1)" font-size="25" text-anchor="middle" stroke="#231f20" stroke-width="0.35">0.999416</text>
<text transform="translate(84.30 668.90) scale(1.0470 1)" font-size="25" stroke="#231f20" stroke-width="0.35">10747</text>
<text transform="translate(297.80 668.90) scale(1.0470 1)" font-size="25" stroke="#231f20" stroke-width="0.35">MASP2</text>
<text transform="translate(642.50 668.90) scale(1.0470 1)" font-size="25" text-anchor="middle" stroke="#231f20" stroke-width="0.35">-0.45</text>
<text transform="translate(822.90 668.90) scale(1.0470 1)" font-size="25" text-anchor="middle" stroke="#231f20" stroke-width="0.35">5.58</text>
<text transform="translate(1006.30 668.90) scale(1.0470 1)" font-size="25" text-anchor="middle" stroke="#231f20" stroke-width="0.35">0.00</text>
<text transform="translate(1187.00 668.90) scale(1.0470 1)" font-size="25" text-anchor="middle" stroke="#231f20" stroke-width="0.35">1.26</text>
<text transform="translate(1365.60 668.90) scale(1.0470 1)" font-size="25" text-anchor="middle" stroke="#231f20" stroke-width="0.35">0.993956</text>
<text transform="translate(1548.10 668.90) scale(1.0470 1)" font-size="25" text-anchor="middle" stroke="#231f20" stroke-width="0.35">0.035473</text>
<text transform="translate(1729.00 668.90) scale(1.0470 1)" font-size="25" text-anchor="middle" stroke="#231f20" stroke-width="0.35">0.999976</text>
<text transform="translate(1910.40 668.90) scale(1.0470 1)" font-size="25" text-anchor="middle" stroke="#231f20" stroke-width="0.35">0.999416</text>
<text transform="translate(84.30 704.76) scale(1.0470 1)" font-size="25" stroke="#231f20" stroke-width="0.35">101927780</text>
<text transform="translate(297.80 704.76) scale(1.0470 1)" font-size="25" stroke="#231f20" stroke-width="0.35">LINC01303</text>
<text transform="translate(642.50 704.76) scale(1.0470 1)" font-size="25" text-anchor="middle" stroke="#231f20" stroke-width="0.35">-2.46</text>
<text transform="translate(822.90 704.76) scale(1.0470 1)" font-size="25" text-anchor="middle" stroke="#231f20" stroke-width="0.35">5.58</text>
<text transform="translate(1006.30 704.76) scale(1.0470 1)" font-size="25" text-anchor="middle" stroke="#231f20" stroke-width="0.35">0.29</text>
<text transform="translate(1187.00 704.76) scale(1.0470 1)" font-size="25" text-anchor="middle" stroke="#231f20" stroke-width="0.35">1.81</text>
<text transform="translate(1365.60 704.76) scale(1.0470 1)" font-size="25" text-anchor="middle" stroke="#231f20" stroke-width="0.35">0.948997</text>
<text transform="translate(1548.10 704.76) scale(1.0470 1)" font-size="25" text-anchor="middle" stroke="#231f20" stroke-width="0.35">0.048536</text>
<text transform="translate(1729.00 704.76) scale(1.0470 1)" font-size="25" text-anchor="middle" stroke="#231f20" stroke-width="0.35">0.999976</text>
<text transform="translate(1910.40 704.76) scale(1.0470 1)" font-size="25" text-anchor="middle" stroke="#231f20" stroke-width="0.35">0.999416</text>
<text transform="translate(84.30 740.61) scale(1.0470 1)" font-size="25" stroke="#231f20" stroke-width="0.35">122748</text>
<text transform="translate(297.80 740.61) scale(1.0470 1)" font-size="25" stroke="#231f20" stroke-width="0.35">OR11H6</text>
<text transform="translate(642.50 740.61) scale(1.0470 1)" font-size="25" text-anchor="middle" stroke="#231f20" stroke-width="0.35">-0.08</text>
<text transform="translate(822.90 740.61) scale(1.0470 1)" font-size="25" text-anchor="middle" stroke="#231f20" stroke-width="0.35">5.55</text>
<text transform="translate(1006.30 740.61) scale(1.0470 1)" font-size="25" text-anchor="middle" stroke="#231f20" stroke-width="0.35">0.17</text>
<text transform="translate(1187.00 740.61) scale(1.0470 1)" font-size="25" text-anchor="middle" stroke="#231f20" stroke-width="0.35">2.64</text>
<text transform="translate(1365.60 740.61) scale(1.0470 1)" font-size="25" text-anchor="middle" stroke="#231f20" stroke-width="0.35">0.993956</text>
<text transform="translate(1548.10 740.61) scale(1.0470 1)" font-size="25" text-anchor="middle" stroke="#231f20" stroke-width="0.35">0.048536</text>
<text transform="translate(1729.00 740.61) scale(1.0470 1)" font-size="25" text-anchor="middle" stroke="#231f20" stroke-width="0.35">0.999976</text>
<text transform="translate(1910.40 740.61) scale(1.0470 1)" font-size="25" text-anchor="middle" stroke="#231f20" stroke-width="0.35">0.999416</text>
<text transform="translate(84.30 776.46) scale(1.0470 1)" font-size="25" stroke="#231f20" stroke-width="0.35">100130827</text>
<text transform="translate(297.80 776.46) scale(1.0470 1)" font-size="25" stroke="#231f20" stroke-width="0.35">SBK3</text>
<text transform="translate(642.50 776.46) scale(1.0470 1)" font-size="25" text-anchor="middle" stroke="#231f20" stroke-width="0.35">-0.18</text>
<text transform="translate(822.90 776.46) scale(1.0470 1)" font-size="25" text-anchor="middle" stroke="#231f20" stroke-width="0.35">5.37</text>
<text transform="translate(1006.30 776.46) scale(1.0470 1)" font-size="25" text-anchor="middle" stroke="#231f20" stroke-width="0.35">0.19</text>
<text transform="translate(1187.00 776.46) scale(1.0470 1)" font-size="25" text-anchor="middle" stroke="#231f20" stroke-width="0.35">1.18</text>
<text transform="translate(1365.60 776.46) scale(1.0470 1)" font-size="25" text-anchor="middle" stroke="#231f20" stroke-width="0.35">0.993956</text>
<text transform="translate(1548.10 776.46) scale(1.0470 1)" font-size="25" text-anchor="middle" stroke="#231f20" stroke-width="0.35">0.035473</text>
<text transform="translate(1729.00 776.46) scale(1.0470 1)" font-size="25" text-anchor="middle" stroke="#231f20" stroke-width="0.35">0.999976</text>
<text transform="translate(1910.40 776.46) scale(1.0470 1)" font-size="25" text-anchor="middle" stroke="#231f20" stroke-width="0.35">0.999416</text>
<text transform="translate(84.30 812.32) scale(1.0470 1)" font-size="25" stroke="#231f20" stroke-width="0.35">105379444</text>
<text transform="translate(297.80 812.32) scale(1.0470 1)" font-size="25" stroke="#231f20" stroke-width="0.35">LOC105379444</text>
<text transform="translate(642.50 812.32) scale(1.0470 1)" font-size="25" text-anchor="middle" stroke="#231f20" stroke-width="0.35">-2.19</text>
<text transform="translate(822.90 812.32) scale(1.0470 1)" font-size="25" text-anchor="middle" stroke="#231f20" stroke-width="0.35">5.33</text>
<text transform="translate(1006.30 812.32) scale(1.0470 1)" font-size="25" text-anchor="middle" stroke="#231f20" stroke-width="0.35">-0.91</text>
<text transform="translate(1187.00 812.32) scale(1.0470 1)" font-size="25" text-anchor="middle" stroke="#231f20" stroke-width="0.35">-0.88</text>
<text transform="translate(1365.60 812.32) scale(1.0470 1)" font-size="25" text-anchor="middle" stroke="#231f20" stroke-width="0.35">0.967531</text>
<text transform="translate(1548.10 812.32) scale(1.0470 1)" font-size="25" text-anchor="middle" stroke="#231f20" stroke-width="0.35">0.034515</text>
<text transform="translate(1729.00 812.32) scale(1.0470 1)" font-size="25" text-anchor="middle" stroke="#231f20" stroke-width="0.35">0.999976</text>
<text transform="translate(1910.40 812.32) scale(1.0470 1)" font-size="25" text-anchor="middle" stroke="#231f20" stroke-width="0.35">0.999416</text>
<text transform="translate(84.30 848.17) scale(1.0470 1)" font-size="25" stroke="#231f20" stroke-width="0.35">7771</text>
<text transform="translate(297.80 848.17) scale(1.0470 1)" font-size="25" stroke="#231f20" stroke-width="0.35">ZNF112</text>
<text transform="translate(642.50 848.17) scale(1.0470 1)" font-size="25" text-anchor="middle" stroke="#231f20" stroke-width="0.35">-2.05</text>
<text transform="translate(822.90 848.17) scale(1.0470 1)" font-size="25" text-anchor="middle" stroke="#231f20" stroke-width="0.35">5.15</text>
<text transform="translate(1006.30 848.17) scale(1.0470 1)" font-size="25" text-anchor="middle" stroke="#231f20" stroke-width="0.35">0.29</text>
<text transform="translate(1187.00 848.17) scale(1.0470 1)" font-size="25" text-anchor="middle" stroke="#231f20" stroke-width="0.35">0.21</text>
<text transform="translate(1365.60 848.17) scale(1.0470 1)" font-size="25" text-anchor="middle" stroke="#231f20" stroke-width="0.35">0.980565</text>
<text transform="translate(1548.10 848.17) scale(1.0470 1)" font-size="25" text-anchor="middle" stroke="#231f20" stroke-width="0.35">0.023144</text>
<text transform="translate(1729.00 848.17) scale(1.0470 1)" font-size="25" text-anchor="middle" stroke="#231f20" stroke-width="0.35">0.999976</text>
<text transform="translate(1910.40 848.17) scale(1.0470 1)" font-size="25" text-anchor="middle" stroke="#231f20" stroke-width="0.35">0.999416</text>
<text transform="translate(84.30 884.03) scale(1.0470 1)" font-size="25" stroke="#231f20" stroke-width="0.35">100507564</text>
<text transform="translate(297.80 884.03) scale(1.0470 1)" font-size="25" stroke="#231f20" stroke-width="0.35">LOC100507564</text>
<text transform="translate(642.50 884.03) scale(1.0470 1)" font-size="25" text-anchor="middle" stroke="#231f20" stroke-width="0.35">-3.46</text>
<text transform="translate(822.90 884.03) scale(1.0470 1)" font-size="25" text-anchor="middle" stroke="#231f20" stroke-width="0.35">4.98</text>
<text transform="translate(1006.30 884.03) scale(1.0470 1)" font-size="25" text-anchor="middle" stroke="#231f20" stroke-width="0.35">0.54</text>
<text transform="translate(1187.00 884.03) scale(1.0470 1)" font-size="25" text-anchor="middle" stroke="#231f20" stroke-width="0.35">-0.20</text>
<text transform="translate(1365.60 884.03) scale(1.0470 1)" font-size="25" text-anchor="middle" stroke="#231f20" stroke-width="0.35">0.945860</text>
<text transform="translate(1548.10 884.03) scale(1.0470 1)" font-size="25" text-anchor="middle" stroke="#231f20" stroke-width="0.35">0.048536</text>
<text transform="translate(1729.00 884.03) scale(1.0470 1)" font-size="25" text-anchor="middle" stroke="#231f20" stroke-width="0.35">0.999976</text>
<text transform="translate(1910.40 884.03) scale(1.0470 1)" font-size="25" text-anchor="middle" stroke="#231f20" stroke-width="0.35">0.999416</text>
<text transform="translate(84.30 919.88) scale(1.0470 1)" font-size="25" stroke="#231f20" stroke-width="0.35">8808</text>
<text transform="translate(297.80 919.88) scale(1.0470 1)" font-size="25" stroke="#231f20" stroke-width="0.35">IL1RL2</text>
<text transform="translate(642.50 919.88) scale(1.0470 1)" font-size="25" text-anchor="middle" stroke="#231f20" stroke-width="0.35">-2.03</text>
<text transform="translate(822.90 919.88) scale(1.0470 1)" font-size="25" text-anchor="middle" stroke="#231f20" stroke-width="0.35">1.80</text>
<text transform="translate(1006.30 919.88) scale(1.0470 1)" font-size="25" text-anchor="middle" stroke="#231f20" stroke-width="0.35">9.39</text>
<text transform="translate(1187.00 919.88) scale(1.0470 1)" font-size="25" text-anchor="middle" stroke="#231f20" stroke-width="0.35">-0.40</text>
<text transform="translate(1365.60 919.88) scale(1.0470 1)" font-size="25" text-anchor="middle" stroke="#231f20" stroke-width="0.35">0.967531</text>
<text transform="translate(1548.10 919.88) scale(1.0470 1)" font-size="25" text-anchor="middle" stroke="#231f20" stroke-width="0.35">0.706133</text>
<text transform="translate(1729.00 919.88) scale(1.0470 1)" font-size="25" text-anchor="middle" stroke="#231f20" stroke-width="0.35">2.45E-04</text>
<text transform="translate(1910.40 919.88) scale(1.0470 1)" font-size="25" text-anchor="middle" stroke="#231f20" stroke-width="0.35">0.999416</text>
<text transform="translate(84.30 955.73) scale(1.0470 1)" font-size="25" font-weight="bold" stroke="#231f20" stroke-width="0.7">2335</text>
<text transform="translate(297.80 955.73) scale(1.0470 1)" font-size="25" font-weight="bold" stroke="#231f20" stroke-width="0.7">FN1</text>
<text transform="translate(642.50 955.73) scale(1.0470 1)" font-size="25" text-anchor="middle" stroke="#231f20" stroke-width="0.35">1.61</text>
<text transform="translate(822.90 955.73) scale(1.0470 1)" font-size="25" text-anchor="middle" stroke="#231f20" stroke-width="0.35">-1.97</text>
<text transform="translate(1006.30 955.73) scale(1.0470 1)" font-size="25" text-anchor="middle" stroke="#231f20" stroke-width="0.35">-1.07</text>
<text transform="translate(1187.00 955.73) scale(1.0470 1)" font-size="25" text-anchor="middle" stroke="#231f20" stroke-width="0.35">-2.49</text>
<text transform="translate(1365.60 955.73) scale(1.0470 1)" font-size="25" text-anchor="middle" stroke="#231f20" stroke-width="0.35">4.84E-04</text>
<text transform="translate(1548.10 955.73) scale(1.0470 1)" font-size="25" text-anchor="middle" stroke="#231f20" stroke-width="0.35">8.40E-05</text>
<text transform="translate(1729.00 955.73) scale(1.0470 1)" font-size="25" text-anchor="middle" stroke="#231f20" stroke-width="0.35">0.914635</text>
<text transform="translate(1910.40 955.73) scale(1.0470 1)" font-size="25" text-anchor="middle" stroke="#231f20" stroke-width="0.35">1.57E-09</text>
<text transform="translate(84.30 991.59) scale(1.0470 1)" font-size="25" font-weight="bold" stroke="#231f20" stroke-width="0.7">6696</text>
<text transform="translate(297.80 991.59) scale(1.0470 1)" font-size="25" font-weight="bold" stroke="#231f20" stroke-width="0.7">SPP1</text>
<text transform="translate(642.50 991.59) scale(1.0470 1)" font-size="25" text-anchor="middle" stroke="#231f20" stroke-width="0.35">2.92</text>
<text transform="translate(822.90 991.59) scale(1.0470 1)" font-size="25" text-anchor="middle" stroke="#231f20" stroke-width="0.35">-4.49</text>
<text transform="translate(1006.30 991.59) scale(1.0470 1)" font-size="25" text-anchor="middle" stroke="#231f20" stroke-width="0.35">-7.21</text>
<text transform="translate(1187.00 991.59) scale(1.0470 1)" font-size="25" text-anchor="middle" stroke="#231f20" stroke-width="0.35">-11.77</text>
<text transform="translate(1365.60 991.59) scale(1.0470 1)" font-size="25" text-anchor="middle" stroke="#231f20" stroke-width="0.35">0.945860</text>
<text transform="translate(1548.10 991.59) scale(1.0470 1)" font-size="25" text-anchor="middle" stroke="#231f20" stroke-width="0.35">0.541812</text>
<text transform="translate(1729.00 991.59) scale(1.0470 1)" font-size="25" text-anchor="middle" stroke="#231f20" stroke-width="0.35">0.325651</text>
<text transform="translate(1910.40 991.59) scale(1.0470 1)" font-size="25" text-anchor="middle" stroke="#231f20" stroke-width="0.35">1.09E-04</text>
<text transform="translate(84.30 1027.44) scale(1.0470 1)" font-size="25" font-weight="bold" stroke="#231f20" stroke-width="0.7">92737</text>
<text transform="translate(297.80 1027.44) scale(1.0470 1)" font-size="25" font-weight="bold" stroke="#231f20" stroke-width="0.7">DNER</text>
<text transform="translate(642.50 1027.44) scale(1.0470 1)" font-size="25" text-anchor="middle" stroke="#231f20" stroke-width="0.35">4.18</text>
<text transform="translate(822.90 1027.44) scale(1.0470 1)" font-size="25" text-anchor="middle" stroke="#231f20" stroke-width="0.35">-6.80</text>
<text transform="translate(1006.30 1027.44) scale(1.0470 1)" font-size="25" text-anchor="middle" stroke="#231f20" stroke-width="0.35">-5.86</text>
<text transform="translate(1187.00 1027.44) scale(1.0470 1)" font-size="25" text-anchor="middle" stroke="#231f20" stroke-width="0.35">-11.32</text>
<text transform="translate(1365.60 1027.44) scale(1.0470 1)" font-size="25" text-anchor="middle" stroke="#231f20" stroke-width="0.35">0.945860</text>
<text transform="translate(1548.10 1027.44) scale(1.0470 1)" font-size="25" text-anchor="middle" stroke="#231f20" stroke-width="0.35">0.241873</text>
<text transform="translate(1729.00 1027.44) scale(1.0470 1)" font-size="25" text-anchor="middle" stroke="#231f20" stroke-width="0.35">0.999976</text>
<text transform="translate(1910.40 1027.44) scale(1.0470 1)" font-size="25" text-anchor="middle" stroke="#231f20" stroke-width="0.35">0.012145</text>
<text transform="translate(84.30 1063.29) scale(1.0470 1)" font-size="25" stroke="#231f20" stroke-width="0.35">23365</text>
<text transform="translate(297.80 1063.29) scale(1.0470 1)" font-size="25" stroke="#231f20" stroke-width="0.35">ARHGEF12</text>
<text transform="translate(642.50 1063.29) scale(1.0470 1)" font-size="25" text-anchor="middle" stroke="#231f20" stroke-width="0.35">0.25</text>
<text transform="translate(822.90 1063.29) scale(1.0470 1)" font-size="25" text-anchor="middle" stroke="#231f20" stroke-width="0.35">-7.15</text>
<text transform="translate(1006.30 1063.29) scale(1.0470 1)" font-size="25" text-anchor="middle" stroke="#231f20" stroke-width="0.35">-0.15</text>
<text transform="translate(1187.00 1063.29) scale(1.0470 1)" font-size="25" text-anchor="middle" stroke="#231f20" stroke-width="0.35">-1.66</text>
<text transform="translate(1365.60 1063.29) scale(1.0470 1)" font-size="25" text-anchor="middle" stroke="#231f20" stroke-width="0.35">0.993956</text>
<text transform="translate(1548.10 1063.29) scale(1.0470 1)" font-size="25" text-anchor="middle" stroke="#231f20" stroke-width="0.35">0.025477</text>
<text transform="translate(1729.00 1063.29) scale(1.0470 1)" font-size="25" text-anchor="middle" stroke="#231f20" stroke-width="0.35">0.999976</text>
<text transform="translate(1910.40 1063.29) scale(1.0470 1)" font-size="25" text-anchor="middle" stroke="#231f20" stroke-width="0.35">0.999416</text>
<text transform="translate(84.30 1099.15) scale(1.0470 1)" font-size="25" stroke="#231f20" stroke-width="0.35">5094</text>
<text transform="translate(297.80 1099.15) scale(1.0470 1)" font-size="25" stroke="#231f20" stroke-width="0.35">PCBP2</text>
<text transform="translate(642.50 1099.15) scale(1.0470 1)" font-size="25" text-anchor="middle" stroke="#231f20" stroke-width="0.35">0.10</text>
<text transform="translate(822.90 1099.15) scale(1.0470 1)" font-size="25" text-anchor="middle" stroke="#231f20" stroke-width="0.35">-7.64</text>
<text transform="translate(1006.30 1099.15) scale(1.0470 1)" font-size="25" text-anchor="middle" stroke="#231f20" stroke-width="0.35">-2.40</text>
<text transform="translate(1187.00 1099.15) scale(1.0470 1)" font-size="25" text-anchor="middle" stroke="#231f20" stroke-width="0.35">-1.61</text>
<text transform="translate(1365.60 1099.15) scale(1.0470 1)" font-size="25" text-anchor="middle" stroke="#231f20" stroke-width="0.35">0.993956</text>
<text transform="translate(1548.10 1099.15) scale(1.0470 1)" font-size="25" text-anchor="middle" stroke="#231f20" stroke-width="0.35">0.017252</text>
<text transform="translate(1729.00 1099.15) scale(1.0470 1)" font-size="25" text-anchor="middle" stroke="#231f20" stroke-width="0.35">0.999976</text>
<text transform="translate(1910.40 1099.15) scale(1.0470 1)" font-size="25" text-anchor="middle" stroke="#231f20" stroke-width="0.35">0.999416</text>
<text transform="translate(-3.60 27.40) scale(0.8200 1)" font-size="45.0" font-weight="bold" stroke="#231f20" stroke-width="0.8">a</text>
</g>
<g id="panel-b">
<text transform="translate(-1.00 1194.70) scale(0.8200 1)" font-size="45.0" font-weight="bold" stroke="#231f20" stroke-width="0.8">b</text>
<text transform="translate(361.90 1188.80) scale(0.8210 1)" font-size="37.4" font-weight="bold" stroke="#231f20" stroke-width="0.8">LNA043 counter-regulates OA signature</text>
<rect x="138.40" y="1218.30" width="414.10" height="124.30" fill="#d1d3d4"/>
<rect x="138.40" y="1218.30" width="414.10" height="319.90" fill="none" stroke="#231f20" stroke-width="1.7"/>
<line x1="138.40" y1="1342.60" x2="552.50" y2="1342.60" stroke="#231f20" stroke-width="1.7"/>
<text transform="translate(345.45 1253.70) scale(0.8360 1)" font-size="31.0" font-weight="bold" text-anchor="middle" stroke="#231f20" stroke-width="0.8">UP in knee OA</text>
<text transform="translate(345.45 1292.00) scale(0.8360 1)" font-size="31.0" font-weight="bold" text-anchor="middle" stroke="#231f20" stroke-width="0.8">(RAAK study)</text>
<text transform="translate(345.45 1330.30) scale(0.8360 1)" font-size="31.0" font-weight="bold" text-anchor="middle" stroke="#231f20" stroke-width="0.8">and DOWN with LNA043</text>
<line x1="125.70" y1="1351.30" x2="138.40" y2="1351.30" stroke="#231f20" stroke-width="1.7"/>
<text transform="translate(117.50 1361.90) scale(0.7200 1)" font-size="32.0" text-anchor="end" stroke="#231f20" stroke-width="0.6">10</text>
<line x1="125.70" y1="1411.40" x2="138.40" y2="1411.40" stroke="#231f20" stroke-width="1.7"/>
<text transform="translate(117.50 1422.00) scale(0.7200 1)" font-size="32.0" text-anchor="end" stroke="#231f20" stroke-width="0.6">0</text>
<line x1="125.70" y1="1471.50" x2="138.40" y2="1471.50" stroke="#231f20" stroke-width="1.7"/>
<text transform="translate(117.50 1482.10) scale(0.7200 1)" font-size="32.0" text-anchor="end" stroke="#231f20" stroke-width="0.6">-10</text>
<line x1="125.70" y1="1531.60" x2="138.40" y2="1531.60" stroke="#231f20" stroke-width="1.7"/>
<text transform="translate(117.50 1542.20) scale(0.7200 1)" font-size="32.0" text-anchor="end" stroke="#231f20" stroke-width="0.6">-20</text>
<circle cx="208.50" cy="1364.50" r="10.60" fill="#808285" stroke="#231f20" stroke-width="1.5"/>
<circle cx="302.80" cy="1435.50" r="10.60" fill="#808285" stroke="#231f20" stroke-width="1.5"/>
<circle cx="397.40" cy="1428.70" r="10.60" fill="#808285" stroke="#231f20" stroke-width="1.5"/>
<circle cx="491.80" cy="1502.90" r="10.60" fill="#808285" stroke="#231f20" stroke-width="1.5"/>
<polyline points="208.5,1364.5 302.8,1435.5 397.4,1428.7 491.8,1502.9" fill="none" stroke="#231f20" stroke-width="1.7"/>
<rect x="138.40" y="1563.20" width="414.10" height="123.80" fill="#d1d3d4"/>
<rect x="138.40" y="1563.20" width="414.10" height="324.80" fill="none" stroke="#231f20" stroke-width="1.7"/>
<line x1="138.40" y1="1687.00" x2="552.50" y2="1687.00" stroke="#231f20" stroke-width="1.7"/>
<text transform="translate(345.45 1600.00) scale(0.8360 1)" font-size="31.0" font-weight="bold" text-anchor="middle" stroke="#231f20" stroke-width="0.8">DOWN in knee OA</text>
<text transform="translate(345.45 1638.30) scale(0.8360 1)" font-size="31.0" font-weight="bold" text-anchor="middle" stroke="#231f20" stroke-width="0.8">(RAAK study)</text>
<text transform="translate(345.45 1676.60) scale(0.8360 1)" font-size="31.0" font-weight="bold" text-anchor="middle" stroke="#231f20" stroke-width="0.8">and UP with LNA043</text>
<line x1="125.70" y1="1701.00" x2="138.40" y2="1701.00" stroke="#231f20" stroke-width="1.7"/>
<text transform="translate(117.50 1711.60) scale(0.7200 1)" font-size="32.0" text-anchor="end" stroke="#231f20" stroke-width="0.6">10</text>
<line x1="125.70" y1="1761.10" x2="138.40" y2="1761.10" stroke="#231f20" stroke-width="1.7"/>
<text transform="translate(117.50 1771.70) scale(0.7200 1)" font-size="32.0" text-anchor="end" stroke="#231f20" stroke-width="0.6">0</text>
<line x1="125.70" y1="1821.20" x2="138.40" y2="1821.20" stroke="#231f20" stroke-width="1.7"/>
<text transform="translate(117.50 1831.80) scale(0.7200 1)" font-size="32.0" text-anchor="end" stroke="#231f20" stroke-width="0.6">-10</text>
<line x1="125.70" y1="1881.30" x2="138.40" y2="1881.30" stroke="#231f20" stroke-width="1.7"/>
<text transform="translate(117.50 1891.90) scale(0.7200 1)" font-size="32.0" text-anchor="end" stroke="#231f20" stroke-width="0.6">-20</text>
<circle cx="208.50" cy="1783.10" r="10.60" fill="#808285" stroke="#231f20" stroke-width="1.5"/>
<circle cx="302.80" cy="1756.90" r="10.60" fill="#808285" stroke="#231f20" stroke-width="1.5"/>
<circle cx="397.40" cy="1743.30" r="10.60" fill="#808285" stroke="#231f20" stroke-width="1.5"/>
<circle cx="491.80" cy="1741.60" r="10.60" fill="#808285" stroke="#231f20" stroke-width="1.5"/>
<polyline points="208.5,1783.1 302.8,1756.9 397.4,1743.3 491.8,1741.6" fill="none" stroke="#231f20" stroke-width="1.7"/>
<line x1="208.50" y1="1888.00" x2="208.50" y2="1900.60" stroke="#231f20" stroke-width="1.7"/>
<text transform="translate(218.50 1918.50) rotate(-55.00) scale(0.7650 1)" font-size="31.5" text-anchor="end" stroke="#231f20" stroke-width="0.6">OA damage</text>
<line x1="302.80" y1="1888.00" x2="302.80" y2="1900.60" stroke="#231f20" stroke-width="1.7"/>
<text transform="translate(312.80 1918.50) rotate(-55.00) scale(0.7650 1)" font-size="31.5" text-anchor="end" stroke="#231f20" stroke-width="0.6">2 hours</text>
<line x1="397.40" y1="1888.00" x2="397.40" y2="1900.60" stroke="#231f20" stroke-width="1.7"/>
<text transform="translate(407.40 1918.50) rotate(-55.00) scale(0.7650 1)" font-size="31.5" text-anchor="end" stroke="#231f20" stroke-width="0.6">7 days</text>
<line x1="491.80" y1="1888.00" x2="491.80" y2="1900.60" stroke="#231f20" stroke-width="1.7"/>
<text transform="translate(501.80 1918.50) rotate(-55.00) scale(0.7650 1)" font-size="31.5" text-anchor="end" stroke="#231f20" stroke-width="0.6">21 days</text>
<text transform="translate(57.50 1621.50) rotate(-90.00) scale(0.8050 1)" font-size="30.4" font-weight="bold" text-anchor="middle" stroke="#231f20" stroke-width="0.8">-log10 (FDR)</text>
<text transform="translate(375.00 2024.40) scale(0.7950 1)" font-size="30.4" font-weight="bold" text-anchor="middle" stroke="#231f20" stroke-width="0.8">LNA043</text>
<line x1="235.00" y1="2017.20" x2="297.10" y2="2017.20" stroke="#231f20" stroke-width="1.7"/>
<line x1="458.40" y1="2017.20" x2="520.50" y2="2017.20" stroke="#231f20" stroke-width="1.7"/>
<line x1="587.10" y1="1214.00" x2="587.10" y2="1538.20" stroke="#231f20" stroke-width="1.7"/>
<line x1="587.10" y1="1563.20" x2="587.10" y2="1888.00" stroke="#231f20" stroke-width="1.7"/>
<line x1="587.10" y1="1474.00" x2="710.10" y2="1527.70" stroke="#231f20" stroke-width="1.7"/>
<line x1="587.10" y1="1766.50" x2="710.10" y2="1820.50" stroke="#231f20" stroke-width="1.7"/>
<rect x="801.40" y="1333.80" width="38.00" height="31.66" fill="#f4836b"/>
<rect x="844.80" y="1333.80" width="38.20" height="31.66" fill="#4b52a6"/>
<rect x="887.70" y="1333.80" width="37.90" height="31.66" fill="#3c54a5"/>
<rect x="930.20" y="1333.80" width="37.80" height="31.66" fill="#3b54a5"/>
<text transform="translate(977.00 1362.33) scale(0.8000 1)" font-size="31.0" stroke="#231f20" stroke-width="0.6">SPP1/OPN</text>
<rect x="801.40" y="1365.06" width="38.00" height="31.66" fill="#ffffff"/>
<rect x="844.80" y="1365.06" width="38.20" height="31.66" fill="#4b52a6"/>
<rect x="887.70" y="1365.06" width="37.90" height="31.66" fill="#ede6f2"/>
<rect x="930.20" y="1365.06" width="37.80" height="31.66" fill="#3b54a5"/>
<text transform="translate(977.00 1393.59) scale(0.8000 1)" font-size="31.0" stroke="#231f20" stroke-width="0.6">PAPPA</text>
<rect x="801.40" y="1396.31" width="38.00" height="31.66" fill="#ec1f27"/>
<rect x="844.80" y="1396.31" width="38.20" height="31.66" fill="#8b78ba"/>
<rect x="887.70" y="1396.31" width="37.90" height="31.66" fill="#3c54a5"/>
<rect x="930.20" y="1396.31" width="37.80" height="31.66" fill="#3b54a5"/>
<text transform="translate(977.00 1424.84) scale(0.8000 1)" font-size="31.0" stroke="#231f20" stroke-width="0.6">CXCL14</text>
<rect x="801.40" y="1427.57" width="38.00" height="31.66" fill="#fcd5c5"/>
<rect x="844.80" y="1427.57" width="38.20" height="31.66" fill="#e6d9ec"/>
<rect x="887.70" y="1427.57" width="37.90" height="31.66" fill="#cdc0df"/>
<rect x="930.20" y="1427.57" width="37.80" height="31.66" fill="#3d54a5"/>
<text transform="translate(977.00 1456.10) scale(0.8000 1)" font-size="31.0" stroke="#231f20" stroke-width="0.6">TNFRSF11B/OPG</text>
<rect x="801.40" y="1458.83" width="38.00" height="31.66" fill="#ef4f39"/>
<rect x="844.80" y="1458.83" width="38.20" height="31.66" fill="#c5b4d9"/>
<rect x="887.70" y="1458.83" width="37.90" height="31.66" fill="#f9b5a0"/>
<rect x="930.20" y="1458.83" width="37.80" height="31.66" fill="#4e52a6"/>
<text transform="translate(977.00 1487.36) scale(0.8000 1)" font-size="31.0" stroke="#231f20" stroke-width="0.6">HBA2</text>
<rect x="801.40" y="1490.09" width="38.00" height="31.66" fill="#f47b62"/>
<rect x="844.80" y="1490.09" width="38.20" height="31.66" fill="#8672b5"/>
<rect x="887.70" y="1490.09" width="37.90" height="31.66" fill="#eae0ee"/>
<rect x="930.20" y="1490.09" width="37.80" height="31.66" fill="#6a5cac"/>
<text transform="translate(977.00 1518.61) scale(0.8000 1)" font-size="31.0" stroke="#231f20" stroke-width="0.6">PTGES</text>
<rect x="801.40" y="1521.34" width="38.00" height="31.66" fill="#f26a50"/>
<rect x="844.80" y="1521.34" width="38.20" height="31.66" fill="#a897ca"/>
<rect x="887.70" y="1521.34" width="37.90" height="31.66" fill="#ebe2ef"/>
<rect x="930.20" y="1521.34" width="37.80" height="31.66" fill="#6a5cac"/>
<text transform="translate(977.00 1549.87) scale(0.8000 1)" font-size="31.0" stroke="#231f20" stroke-width="0.6">SERPINE1</text>
<rect x="801.40" y="1552.60" width="38.00" height="31.66" fill="#fde3d9"/>
<rect x="844.80" y="1552.60" width="38.20" height="31.66" fill="#f6f2f8"/>
<rect x="887.70" y="1552.60" width="37.90" height="31.66" fill="#fde4da"/>
<rect x="930.20" y="1552.60" width="37.80" height="31.66" fill="#6d5ead"/>
<text transform="translate(977.00 1581.13) scale(0.8000 1)" font-size="31.0" stroke="#231f20" stroke-width="0.6">NGF</text>
<rect x="801.40" y="1583.86" width="38.00" height="31.66" fill="#f58b72"/>
<rect x="844.80" y="1583.86" width="38.20" height="31.66" fill="#cfc1df"/>
<rect x="887.70" y="1583.86" width="37.90" height="31.66" fill="#ffffff"/>
<rect x="930.20" y="1583.86" width="37.80" height="31.66" fill="#7363b0"/>
<text transform="translate(977.00 1612.39) scale(0.8000 1)" font-size="31.0" stroke="#231f20" stroke-width="0.6">HBB</text>
<rect x="801.40" y="1615.11" width="38.00" height="31.66" fill="#ec2227"/>
<rect x="844.80" y="1615.11" width="38.20" height="31.66" fill="#5053a7"/>
<rect x="887.70" y="1615.11" width="37.90" height="31.66" fill="#5a56a9"/>
<rect x="930.20" y="1615.11" width="37.80" height="31.66" fill="#7f6db5"/>
<text transform="translate(977.00 1643.64) scale(0.8000 1)" font-size="31.0" stroke="#231f20" stroke-width="0.6">CRLF1</text>
<rect x="801.40" y="1646.37" width="38.00" height="31.66" fill="#fbc3b1"/>
<rect x="844.80" y="1646.37" width="38.20" height="31.66" fill="#b3a2cf"/>
<rect x="887.70" y="1646.37" width="37.90" height="31.66" fill="#ddd1e7"/>
<rect x="930.20" y="1646.37" width="37.80" height="31.66" fill="#9280be"/>
<text transform="translate(977.00 1674.90) scale(0.8000 1)" font-size="31.0" stroke="#231f20" stroke-width="0.6">FN1</text>
<rect x="801.40" y="1677.63" width="38.00" height="31.66" fill="#f58a70"/>
<rect x="844.80" y="1677.63" width="38.20" height="31.66" fill="#5053a7"/>
<rect x="887.70" y="1677.63" width="37.90" height="31.66" fill="#c0b0d6"/>
<rect x="930.20" y="1677.63" width="37.80" height="31.66" fill="#cfc2df"/>
<text transform="translate(977.00 1706.16) scale(0.8000 1)" font-size="31.0" stroke="#231f20" stroke-width="0.6">P3H2</text>
<rect x="801.40" y="1708.89" width="38.00" height="31.66" fill="#f6927a"/>
<rect x="844.80" y="1708.89" width="38.20" height="31.66" fill="#f1ecf5"/>
<rect x="887.70" y="1708.89" width="37.90" height="31.66" fill="#fefbf8"/>
<rect x="930.20" y="1708.89" width="37.80" height="31.66" fill="#e9e0ee"/>
<text transform="translate(977.00 1737.41) scale(0.8000 1)" font-size="31.0" stroke="#231f20" stroke-width="0.6">CD55</text>
<rect x="801.40" y="1740.14" width="38.00" height="31.66" fill="#f79e88"/>
<rect x="844.80" y="1740.14" width="38.20" height="31.66" fill="#fcd4c6"/>
<rect x="887.70" y="1740.14" width="37.90" height="31.66" fill="#cdc1df"/>
<rect x="930.20" y="1740.14" width="37.80" height="31.66" fill="#fbc4b3"/>
<text transform="translate(977.00 1768.67) scale(0.8000 1)" font-size="31.0" stroke="#231f20" stroke-width="0.6">TNFAIP6</text>
<rect x="801.40" y="1775.80" width="38.00" height="31.68" fill="#8d7abb"/>
<rect x="844.80" y="1775.80" width="38.20" height="31.68" fill="#5254a8"/>
<rect x="887.70" y="1775.80" width="37.90" height="31.68" fill="#fcdacd"/>
<rect x="930.20" y="1775.80" width="37.80" height="31.68" fill="#f9b29d"/>
<text transform="translate(977.00 1804.34) scale(0.8000 1)" font-size="31.0" stroke="#231f20" stroke-width="0.6">CRISPLD1</text>
<rect x="801.40" y="1807.08" width="38.00" height="31.68" fill="#6d5ead"/>
<rect x="844.80" y="1807.08" width="38.20" height="31.68" fill="#f26b52"/>
<rect x="887.70" y="1807.08" width="37.90" height="31.68" fill="#f58c73"/>
<rect x="930.20" y="1807.08" width="37.80" height="31.68" fill="#ec2027"/>
<text transform="translate(977.00 1835.62) scale(0.8000 1)" font-size="31.0" stroke="#231f20" stroke-width="0.6">RARRES2</text>
<rect x="801.40" y="1838.36" width="38.00" height="31.68" fill="#3b54a5"/>
<rect x="844.80" y="1838.36" width="38.20" height="31.68" fill="#fde2d8"/>
<rect x="887.70" y="1838.36" width="37.90" height="31.68" fill="#ee4130"/>
<rect x="930.20" y="1838.36" width="37.80" height="31.68" fill="#ec2027"/>
<text transform="translate(977.00 1866.90) scale(0.8000 1)" font-size="31.0" stroke="#231f20" stroke-width="0.6">FRZB</text>
<rect x="801.40" y="1869.64" width="38.00" height="31.68" fill="#3b54a5"/>
<rect x="844.80" y="1869.64" width="38.20" height="31.68" fill="#fbc5b4"/>
<rect x="887.70" y="1869.64" width="37.90" height="31.68" fill="#ec2a29"/>
<rect x="930.20" y="1869.64" width="37.80" height="31.68" fill="#ec2027"/>
<text transform="translate(977.00 1898.18) scale(0.8000 1)" font-size="31.0" stroke="#231f20" stroke-width="0.6">COL9A1</text>
<rect x="801.40" y="1900.92" width="38.00" height="31.68" fill="#3b54a5"/>
<rect x="844.80" y="1900.92" width="38.20" height="31.68" fill="#f6937b"/>
<rect x="887.70" y="1900.92" width="37.90" height="31.68" fill="#f26e55"/>
<rect x="930.20" y="1900.92" width="37.80" height="31.68" fill="#ec2027"/>
<text transform="translate(977.00 1929.46) scale(0.8000 1)" font-size="31.0" stroke="#231f20" stroke-width="0.6">CHRDL2</text>
<text transform="translate(822.90 1327.00) rotate(-57.00) scale(0.7870 1)" font-size="32.6" stroke="#231f20" stroke-width="0.6">OA damage</text>
<text transform="translate(866.40 1327.00) rotate(-57.00) scale(0.7870 1)" font-size="32.6" stroke="#231f20" stroke-width="0.6">2 hours</text>
<text transform="translate(909.15 1327.00) rotate(-57.00) scale(0.7870 1)" font-size="32.6" stroke="#231f20" stroke-width="0.6">7 days</text>
<text transform="translate(951.60 1327.00) rotate(-57.00) scale(0.7870 1)" font-size="32.6" stroke="#231f20" stroke-width="0.6">21 days</text>
<text transform="translate(972.80 1232.90) scale(0.8180 1)" font-size="26.2" font-weight="bold" text-anchor="middle" stroke="#231f20" stroke-width="0.7">LNA043</text>
<line x1="906.20" y1="1223.60" x2="928.90" y2="1223.60" stroke="#231f20" stroke-width="1.8"/>
<line x1="1016.00" y1="1223.60" x2="1039.70" y2="1223.60" stroke="#231f20" stroke-width="1.8"/>
<text transform="translate(773.80 1547.60) rotate(-90.00) scale(0.8100 1)" font-size="30.0" text-anchor="middle" stroke="#231f20" stroke-width="0.6">Up (14)</text>
<text transform="translate(773.80 1848.80) rotate(-90.00) scale(0.8100 1)" font-size="30.0" text-anchor="middle" stroke="#231f20" stroke-width="0.6">Down (5)</text>
<defs><linearGradient id="key" x1="0" y1="0" x2="0" y2="1"><stop offset="0" stop-color="#ec2027"/><stop offset="0.04" stop-color="#ed2d27"/><stop offset="0.15" stop-color="#f15a40"/><stop offset="0.28" stop-color="#f58b72"/><stop offset="0.40" stop-color="#fbc8b7"/><stop offset="0.50" stop-color="#ffffff"/><stop offset="0.60" stop-color="#d2d0e9"/><stop offset="0.72" stop-color="#9c97cd"/><stop offset="0.85" stop-color="#6a74bb"/><stop offset="0.96" stop-color="#4059a9"/><stop offset="1" stop-color="#3b54a5"/></linearGradient></defs>
<rect x="1167.20" y="1531.70" width="29.00" height="199.80" fill="url(#key)"/>
<line x1="1167.20" y1="1539.70" x2="1175.70" y2="1539.70" stroke="#ffffff" stroke-width="1.6"/>
<line x1="1187.70" y1="1539.70" x2="1196.20" y2="1539.70" stroke="#ffffff" stroke-width="1.6"/>
<line x1="1167.20" y1="1722.50" x2="1175.70" y2="1722.50" stroke="#ffffff" stroke-width="1.6"/>
<line x1="1187.70" y1="1722.50" x2="1196.20" y2="1722.50" stroke="#ffffff" stroke-width="1.6"/>
<text transform="translate(1201.00 1553.90) scale(0.8050 1)" font-size="29.6" stroke="#231f20" stroke-width="0.6">5</text>
<text transform="translate(1201.00 1644.20) scale(0.8050 1)" font-size="29.6" stroke="#231f20" stroke-width="0.6">0</text>
<text transform="translate(1201.00 1733.20) scale(0.8050 1)" font-size="29.6" stroke="#231f20" stroke-width="0.6">-5</text>
<text transform="translate(1152.90 1638.40) rotate(-90.00) scale(0.8250 1)" font-size="29.6" font-weight="bold" text-anchor="middle" stroke="#231f20" stroke-width="0.8">log2FC</text>
</g>
<g id="panel-c">
<text transform="translate(-1.60 2131.70) scale(0.8200 1)" font-size="45.0" font-weight="bold" stroke="#231f20" stroke-width="0.8">c</text>
<rect x="81.10" y="2104.80" width="1396.10" height="71.00" fill="#d1d3d4"/>
<rect x="81.10" y="2104.80" width="1396.10" height="562.40" fill="none" stroke="#231f20" stroke-width="2"/>
<line x1="81.10" y1="2175.80" x2="1477.20" y2="2175.80" stroke="#231f20" stroke-width="2.8"/>
<text transform="translate(779.65 2154.30) scale(0.8527 1)" font-size="36" font-weight="bold" text-anchor="middle" stroke="#231f20" stroke-width="0.8">DOWN with LNA043</text>
<rect x="1487.50" y="2104.80" width="513.10" height="71.00" fill="#d1d3d4"/>
<rect x="1487.50" y="2104.80" width="513.10" height="562.40" fill="none" stroke="#231f20" stroke-width="2"/>
<line x1="1487.50" y1="2175.80" x2="2000.60" y2="2175.80" stroke="#231f20" stroke-width="2.8"/>
<text transform="translate(1744.55 2154.30) scale(0.8527 1)" font-size="36" font-weight="bold" text-anchor="middle" stroke="#231f20" stroke-width="0.8">UP with LNA043</text>
<text transform="translate(183.80 2230.20) scale(0.8120 1)" font-size="37.4" font-weight="bold" stroke="#231f20" stroke-width="0.8">CXCL14</text>
<line x1="184.20" y1="2276.50" x2="184.20" y2="2519.10" stroke="#231f20" stroke-width="1.8"/>
<line x1="183.30" y1="2518.20" x2="495.80" y2="2518.20" stroke="#231f20" stroke-width="1.8"/>
<path d="M184.20 2266.50 L190.70 2283.50 L184.20 2279.00 L177.70 2283.50 Z" fill="#231f20"/>
<path d="M505.80 2518.20 L488.80 2511.90 L493.30 2518.20 L488.80 2524.50 Z" fill="#231f20"/>
<line x1="171.60" y1="2308.60" x2="184.20" y2="2308.60" stroke="#231f20" stroke-width="1.7"/>
<text transform="translate(163.60 2319.20) scale(0.7650 1)" font-size="32.0" text-anchor="end" stroke="#231f20" stroke-width="0.6">4</text>
<line x1="171.60" y1="2362.30" x2="184.20" y2="2362.30" stroke="#231f20" stroke-width="1.7"/>
<text transform="translate(163.60 2372.90) scale(0.7650 1)" font-size="32.0" text-anchor="end" stroke="#231f20" stroke-width="0.6">2</text>
<line x1="171.60" y1="2416.40" x2="184.20" y2="2416.40" stroke="#231f20" stroke-width="1.7"/>
<text transform="translate(163.60 2427.00) scale(0.7650 1)" font-size="32.0" text-anchor="end" stroke="#231f20" stroke-width="0.6">0</text>
<line x1="171.60" y1="2470.50" x2="184.20" y2="2470.50" stroke="#231f20" stroke-width="1.7"/>
<text transform="translate(163.60 2481.10) scale(0.7650 1)" font-size="32.0" text-anchor="end" stroke="#231f20" stroke-width="0.6">-2</text>
<line x1="230.10" y1="2518.20" x2="230.10" y2="2531.30" stroke="#231f20" stroke-width="1.7"/>
<text transform="translate(238.10 2552.00) rotate(-41.00) scale(0.7870 1)" font-size="31.5" text-anchor="end" stroke="#231f20" stroke-width="0.6">Placebo</text>
<line x1="306.40" y1="2518.20" x2="306.40" y2="2531.30" stroke="#231f20" stroke-width="1.7"/>
<text transform="translate(315.40 2552.00) rotate(-41.00) scale(0.7870 1)" font-size="31.5" text-anchor="end" stroke="#231f20" stroke-width="0.6">2 hours</text>
<line x1="383.00" y1="2518.20" x2="383.00" y2="2531.30" stroke="#231f20" stroke-width="1.7"/>
<text transform="translate(394.00 2552.00) rotate(-41.00) scale(0.7870 1)" font-size="31.5" text-anchor="end" stroke="#231f20" stroke-width="0.6">7 days</text>
<line x1="459.30" y1="2518.20" x2="459.30" y2="2531.30" stroke="#231f20" stroke-width="1.7"/>
<text transform="translate(471.30 2552.00) rotate(-41.00) scale(0.7870 1)" font-size="31.5" text-anchor="end" stroke="#231f20" stroke-width="0.6">21 days</text>
<line x1="230.10" y1="2357.00" x2="230.10" y2="2440.40" stroke="#a7a9ac" stroke-width="2.5"/>
<line x1="306.40" y1="2330.00" x2="306.40" y2="2494.20" stroke="#a7a9ac" stroke-width="2.5"/>
<line x1="383.00" y1="2283.00" x2="383.00" y2="2372.60" stroke="#a7a9ac" stroke-width="2.5"/>
<line x1="459.30" y1="2273.50" x2="459.30" y2="2394.00" stroke="#a7a9ac" stroke-width="2.5"/>
<line x1="230.10" y1="2266.50" x2="230.10" y2="2331.50" stroke="#58595b" stroke-width="2.5"/>
<line x1="306.40" y1="2310.00" x2="306.40" y2="2420.00" stroke="#58595b" stroke-width="2.5"/>
<line x1="383.00" y1="2425.10" x2="383.00" y2="2490.60" stroke="#58595b" stroke-width="2.5"/>
<line x1="459.30" y1="2396.00" x2="459.30" y2="2503.50" stroke="#58595b" stroke-width="2.5"/>
<circle cx="230.10" cy="2299.50" r="10.40" fill="#58595b"/>
<circle cx="306.40" cy="2365.10" r="10.40" fill="#58595b"/>
<circle cx="383.00" cy="2458.10" r="10.40" fill="#58595b"/>
<circle cx="459.30" cy="2448.30" r="10.40" fill="#58595b"/>
<circle cx="230.10" cy="2399.40" r="10.40" fill="#a7a9ac"/>
<circle cx="306.40" cy="2412.00" r="10.40" fill="#a7a9ac"/>
<circle cx="383.00" cy="2325.30" r="10.40" fill="#a7a9ac"/>
<circle cx="459.30" cy="2354.80" r="10.40" fill="#a7a9ac"/>
<polyline points="230.1,2299.5 306.4,2365.1 383.0,2458.1 459.3,2448.3" fill="none" stroke="#58595b" stroke-width="2.7" stroke-dasharray="7.4 5.6"/>
<polyline points="230.1,2399.4 306.4,2412.0 383.0,2325.3 459.3,2354.8" fill="none" stroke="#a7a9ac" stroke-width="2.7"/>
<text transform="translate(647.40 2230.20) scale(0.8120 1)" font-size="37.4" font-weight="bold" stroke="#231f20" stroke-width="0.8">CRLF1</text>
<line x1="649.60" y1="2276.50" x2="649.60" y2="2519.10" stroke="#231f20" stroke-width="1.8"/>
<line x1="648.70" y1="2518.20" x2="960.50" y2="2518.20" stroke="#231f20" stroke-width="1.8"/>
<path d="M649.60 2266.50 L656.10 2283.50 L649.60 2279.00 L643.10 2283.50 Z" fill="#231f20"/>
<path d="M970.50 2518.20 L953.50 2511.90 L958.00 2518.20 L953.50 2524.50 Z" fill="#231f20"/>
<text transform="translate(629.20 2288.20) scale(0.7650 1)" font-size="32.0" text-anchor="end" stroke="#231f20" stroke-width="0.6">8</text>
<line x1="637.00" y1="2329.70" x2="649.60" y2="2329.70" stroke="#231f20" stroke-width="1.7"/>
<text transform="translate(629.20 2340.30) scale(0.7650 1)" font-size="32.0" text-anchor="end" stroke="#231f20" stroke-width="0.6">6</text>
<line x1="637.00" y1="2381.00" x2="649.60" y2="2381.00" stroke="#231f20" stroke-width="1.7"/>
<text transform="translate(629.20 2391.60) scale(0.7650 1)" font-size="32.0" text-anchor="end" stroke="#231f20" stroke-width="0.6">4</text>
<line x1="637.00" y1="2434.50" x2="649.60" y2="2434.50" stroke="#231f20" stroke-width="1.7"/>
<text transform="translate(629.20 2445.10) scale(0.7650 1)" font-size="32.0" text-anchor="end" stroke="#231f20" stroke-width="0.6">2</text>
<line x1="637.00" y1="2487.00" x2="649.60" y2="2487.00" stroke="#231f20" stroke-width="1.7"/>
<text transform="translate(629.20 2497.60) scale(0.7650 1)" font-size="32.0" text-anchor="end" stroke="#231f20" stroke-width="0.6">0</text>
<line x1="695.30" y1="2518.20" x2="695.30" y2="2531.30" stroke="#231f20" stroke-width="1.7"/>
<text transform="translate(703.30 2552.00) rotate(-41.00) scale(0.7870 1)" font-size="31.5" text-anchor="end" stroke="#231f20" stroke-width="0.6">Placebo</text>
<line x1="771.90" y1="2518.20" x2="771.90" y2="2531.30" stroke="#231f20" stroke-width="1.7"/>
<text transform="translate(780.90 2552.00) rotate(-41.00) scale(0.7870 1)" font-size="31.5" text-anchor="end" stroke="#231f20" stroke-width="0.6">2 hours</text>
<line x1="848.20" y1="2518.20" x2="848.20" y2="2531.30" stroke="#231f20" stroke-width="1.7"/>
<text transform="translate(859.20 2552.00) rotate(-41.00) scale(0.7870 1)" font-size="31.5" text-anchor="end" stroke="#231f20" stroke-width="0.6">7 days</text>
<line x1="924.50" y1="2518.20" x2="924.50" y2="2531.30" stroke="#231f20" stroke-width="1.7"/>
<text transform="translate(936.50 2552.00) rotate(-41.00) scale(0.7870 1)" font-size="31.5" text-anchor="end" stroke="#231f20" stroke-width="0.6">21 days</text>
<line x1="695.30" y1="2393.50" x2="695.30" y2="2438.00" stroke="#a7a9ac" stroke-width="2.5"/>
<line x1="771.90" y1="2318.80" x2="771.90" y2="2458.50" stroke="#a7a9ac" stroke-width="2.5"/>
<line x1="848.20" y1="2330.00" x2="848.20" y2="2503.50" stroke="#a7a9ac" stroke-width="2.5"/>
<line x1="924.50" y1="2335.00" x2="924.50" y2="2379.00" stroke="#a7a9ac" stroke-width="2.5"/>
<line x1="695.30" y1="2266.40" x2="695.30" y2="2292.00" stroke="#58595b" stroke-width="2.5"/>
<line x1="771.90" y1="2361.20" x2="771.90" y2="2410.50" stroke="#58595b" stroke-width="2.5"/>
<line x1="848.20" y1="2306.60" x2="848.20" y2="2473.50" stroke="#58595b" stroke-width="2.5"/>
<line x1="924.50" y1="2325.30" x2="924.50" y2="2349.50" stroke="#58595b" stroke-width="2.5"/>
<circle cx="695.30" cy="2415.60" r="10.40" fill="#a7a9ac"/>
<circle cx="771.90" cy="2389.90" r="10.40" fill="#a7a9ac"/>
<circle cx="848.20" cy="2404.40" r="10.40" fill="#a7a9ac"/>
<circle cx="924.50" cy="2355.40" r="10.40" fill="#a7a9ac"/>
<circle cx="695.30" cy="2278.80" r="10.40" fill="#58595b"/>
<circle cx="771.90" cy="2385.30" r="10.40" fill="#58595b"/>
<circle cx="848.20" cy="2388.40" r="10.40" fill="#58595b"/>
<circle cx="924.50" cy="2337.70" r="10.40" fill="#58595b"/>
<polyline points="695.3,2278.8 771.9,2385.3 848.2,2388.4 924.5,2337.7" fill="none" stroke="#58595b" stroke-width="2.7" stroke-dasharray="7.4 5.6"/>
<polyline points="695.3,2415.6 771.9,2389.9 848.2,2404.4 924.5,2355.4" fill="none" stroke="#a7a9ac" stroke-width="2.7"/>
<text transform="translate(1108.80 2230.20) scale(0.8120 1)" font-size="37.4" font-weight="bold" stroke="#231f20" stroke-width="0.8">NGF</text>
<line x1="1106.00" y1="2276.50" x2="1106.00" y2="2519.10" stroke="#231f20" stroke-width="1.8"/>
<line x1="1105.10" y1="2518.20" x2="1416.80" y2="2518.20" stroke="#231f20" stroke-width="1.8"/>
<path d="M1106.00 2266.50 L1112.50 2283.50 L1106.00 2279.00 L1099.50 2283.50 Z" fill="#231f20"/>
<path d="M1426.80 2518.20 L1409.80 2511.90 L1414.30 2518.20 L1409.80 2524.50 Z" fill="#231f20"/>
<text transform="translate(1085.60 2288.20) scale(0.7650 1)" font-size="32.0" text-anchor="end" stroke="#231f20" stroke-width="0.6">4</text>
<line x1="1093.40" y1="2334.50" x2="1106.00" y2="2334.50" stroke="#231f20" stroke-width="1.7"/>
<text transform="translate(1085.60 2345.10) scale(0.7650 1)" font-size="32.0" text-anchor="end" stroke="#231f20" stroke-width="0.6">2</text>
<line x1="1093.40" y1="2401.50" x2="1106.00" y2="2401.50" stroke="#231f20" stroke-width="1.7"/>
<text transform="translate(1085.60 2412.10) scale(0.7650 1)" font-size="32.0" text-anchor="end" stroke="#231f20" stroke-width="0.6">0</text>
<line x1="1093.40" y1="2465.20" x2="1106.00" y2="2465.20" stroke="#231f20" stroke-width="1.7"/>
<text transform="translate(1085.60 2475.80) scale(0.7650 1)" font-size="32.0" text-anchor="end" stroke="#231f20" stroke-width="0.6">-2</text>
<line x1="1152.00" y1="2518.20" x2="1152.00" y2="2531.30" stroke="#231f20" stroke-width="1.7"/>
<text transform="translate(1160.00 2552.00) rotate(-41.00) scale(0.7870 1)" font-size="31.5" text-anchor="end" stroke="#231f20" stroke-width="0.6">Placebo</text>
<line x1="1228.30" y1="2518.20" x2="1228.30" y2="2531.30" stroke="#231f20" stroke-width="1.7"/>
<text transform="translate(1237.30 2552.00) rotate(-41.00) scale(0.7870 1)" font-size="31.5" text-anchor="end" stroke="#231f20" stroke-width="0.6">2 hours</text>
<line x1="1304.80" y1="2518.20" x2="1304.80" y2="2531.30" stroke="#231f20" stroke-width="1.7"/>
<text transform="translate(1315.80 2552.00) rotate(-41.00) scale(0.7870 1)" font-size="31.5" text-anchor="end" stroke="#231f20" stroke-width="0.6">7 days</text>
<line x1="1380.80" y1="2518.20" x2="1380.80" y2="2531.30" stroke="#231f20" stroke-width="1.7"/>
<text transform="translate(1392.80 2552.00) rotate(-41.00) scale(0.7870 1)" font-size="31.5" text-anchor="end" stroke="#231f20" stroke-width="0.6">21 days</text>
<line x1="1152.00" y1="2442.00" x2="1152.00" y2="2493.70" stroke="#a7a9ac" stroke-width="2.5"/>
<line x1="1228.30" y1="2270.70" x2="1228.30" y2="2380.00" stroke="#a7a9ac" stroke-width="2.5"/>
<line x1="1304.80" y1="2380.00" x2="1304.80" y2="2502.00" stroke="#a7a9ac" stroke-width="2.5"/>
<line x1="1380.80" y1="2337.60" x2="1380.80" y2="2449.50" stroke="#a7a9ac" stroke-width="2.5"/>
<line x1="1152.00" y1="2350.20" x2="1152.00" y2="2442.00" stroke="#58595b" stroke-width="2.5"/>
<line x1="1228.30" y1="2344.00" x2="1228.30" y2="2453.00" stroke="#58595b" stroke-width="2.5"/>
<line x1="1304.80" y1="2283.50" x2="1304.80" y2="2455.50" stroke="#58595b" stroke-width="2.5"/>
<line x1="1380.80" y1="2451.00" x2="1380.80" y2="2497.90" stroke="#58595b" stroke-width="2.5"/>
<circle cx="1152.00" cy="2395.20" r="10.40" fill="#58595b"/>
<circle cx="1228.30" cy="2397.50" r="10.40" fill="#58595b"/>
<circle cx="1304.80" cy="2369.50" r="10.40" fill="#58595b"/>
<circle cx="1380.80" cy="2474.60" r="10.40" fill="#58595b"/>
<circle cx="1152.00" cy="2464.80" r="10.40" fill="#a7a9ac"/>
<circle cx="1228.30" cy="2361.70" r="10.40" fill="#a7a9ac"/>
<circle cx="1304.80" cy="2404.20" r="10.40" fill="#a7a9ac"/>
<circle cx="1380.80" cy="2420.60" r="10.40" fill="#a7a9ac"/>
<polyline points="1152.0,2395.2 1228.3,2397.5 1304.8,2369.5 1380.8,2474.6" fill="none" stroke="#58595b" stroke-width="2.7" stroke-dasharray="7.4 5.6"/>
<polyline points="1152.0,2464.8 1228.3,2361.7 1304.8,2404.2 1380.8,2420.6" fill="none" stroke="#a7a9ac" stroke-width="2.7"/>
<text transform="translate(1615.80 2227.40) scale(0.8120 1)" font-size="37.4" font-weight="bold" stroke="#231f20" stroke-width="0.8">RARRES2</text>
<line x1="1616.20" y1="2275.60" x2="1616.20" y2="2519.10" stroke="#231f20" stroke-width="1.8"/>
<line x1="1615.30" y1="2518.20" x2="1926.50" y2="2518.20" stroke="#231f20" stroke-width="1.8"/>
<path d="M1616.20 2265.60 L1622.70 2282.60 L1616.20 2278.10 L1609.70 2282.60 Z" fill="#231f20"/>
<path d="M1936.50 2518.20 L1919.50 2511.90 L1924.00 2518.20 L1919.50 2524.50 Z" fill="#231f20"/>
<line x1="1603.60" y1="2307.50" x2="1616.20" y2="2307.50" stroke="#231f20" stroke-width="1.7"/>
<text transform="translate(1593.00 2318.10) scale(0.7650 1)" font-size="32.0" text-anchor="end" stroke="#231f20" stroke-width="0.6">5.0</text>
<line x1="1603.60" y1="2376.80" x2="1616.20" y2="2376.80" stroke="#231f20" stroke-width="1.7"/>
<text transform="translate(1593.00 2387.40) scale(0.7650 1)" font-size="32.0" text-anchor="end" stroke="#231f20" stroke-width="0.6">2.5</text>
<line x1="1603.60" y1="2447.80" x2="1616.20" y2="2447.80" stroke="#231f20" stroke-width="1.7"/>
<text transform="translate(1593.00 2458.40) scale(0.7650 1)" font-size="32.0" text-anchor="end" stroke="#231f20" stroke-width="0.6">0.0</text>
<line x1="1603.60" y1="2515.50" x2="1616.20" y2="2515.50" stroke="#231f20" stroke-width="1.7"/>
<text transform="translate(1593.00 2526.10) scale(0.7650 1)" font-size="32.0" text-anchor="end" stroke="#231f20" stroke-width="0.6">-2.5</text>
<line x1="1661.20" y1="2518.20" x2="1661.20" y2="2531.30" stroke="#231f20" stroke-width="1.7"/>
<text transform="translate(1669.20 2552.00) rotate(-41.00) scale(0.7870 1)" font-size="31.5" text-anchor="end" stroke="#231f20" stroke-width="0.6">Placebo</text>
<line x1="1738.00" y1="2518.20" x2="1738.00" y2="2531.30" stroke="#231f20" stroke-width="1.7"/>
<text transform="translate(1747.00 2552.00) rotate(-41.00) scale(0.7870 1)" font-size="31.5" text-anchor="end" stroke="#231f20" stroke-width="0.6">2 hours</text>
<line x1="1814.00" y1="2518.20" x2="1814.00" y2="2531.30" stroke="#231f20" stroke-width="1.7"/>
<text transform="translate(1825.00 2552.00) rotate(-41.00) scale(0.7870 1)" font-size="31.5" text-anchor="end" stroke="#231f20" stroke-width="0.6">7 days</text>
<line x1="1890.50" y1="2518.20" x2="1890.50" y2="2531.30" stroke="#231f20" stroke-width="1.7"/>
<text transform="translate(1902.50 2552.00) rotate(-41.00) scale(0.7870 1)" font-size="31.5" text-anchor="end" stroke="#231f20" stroke-width="0.6">21 days</text>
<line x1="1661.20" y1="2296.20" x2="1661.20" y2="2366.50" stroke="#a7a9ac" stroke-width="2.5"/>
<line x1="1738.00" y1="2290.00" x2="1738.00" y2="2442.30" stroke="#a7a9ac" stroke-width="2.5"/>
<line x1="1814.00" y1="2270.30" x2="1814.00" y2="2331.00" stroke="#a7a9ac" stroke-width="2.5"/>
<line x1="1661.20" y1="2445.30" x2="1661.20" y2="2507.10" stroke="#58595b" stroke-width="2.5"/>
<line x1="1738.00" y1="2290.40" x2="1738.00" y2="2415.40" stroke="#58595b" stroke-width="2.5"/>
<line x1="1814.00" y1="2337.00" x2="1814.00" y2="2443.40" stroke="#58595b" stroke-width="2.5"/>
<circle cx="1661.20" cy="2476.30" r="10.40" fill="#58595b"/>
<circle cx="1738.00" cy="2358.00" r="10.40" fill="#58595b"/>
<circle cx="1814.00" cy="2387.20" r="10.40" fill="#58595b"/>
<circle cx="1890.50" cy="2333.30" r="10.40" fill="#58595b"/>
<circle cx="1661.20" cy="2330.80" r="10.40" fill="#a7a9ac"/>
<circle cx="1738.00" cy="2368.60" r="10.40" fill="#a7a9ac"/>
<circle cx="1814.00" cy="2308.00" r="10.40" fill="#a7a9ac"/>
<circle cx="1890.50" cy="2297.60" r="10.40" fill="#a7a9ac"/>
<polyline points="1661.2,2476.3 1738.0,2358.0 1814.0,2387.2 1890.5,2333.3" fill="none" stroke="#58595b" stroke-width="2.7" stroke-dasharray="7.4 5.6"/>
<polyline points="1661.2,2330.8 1738.0,2368.6 1814.0,2308.0 1890.5,2297.6" fill="none" stroke="#a7a9ac" stroke-width="2.7"/>
<circle cx="863.40" cy="2699.30" r="10.50" fill="#a7a9ac"/>
<text transform="translate(887.00 2709.60) scale(0.8300 1)" font-size="33.5" stroke="#231f20" stroke-width="0.6">undamaged</text>
<circle cx="1107.10" cy="2699.30" r="10.50" fill="#58595b"/>
<text transform="translate(1127.00 2709.60) scale(0.8300 1)" font-size="33.5" stroke="#231f20" stroke-width="0.6">damaged</text>
</g>
</svg>
</body>
</html>
